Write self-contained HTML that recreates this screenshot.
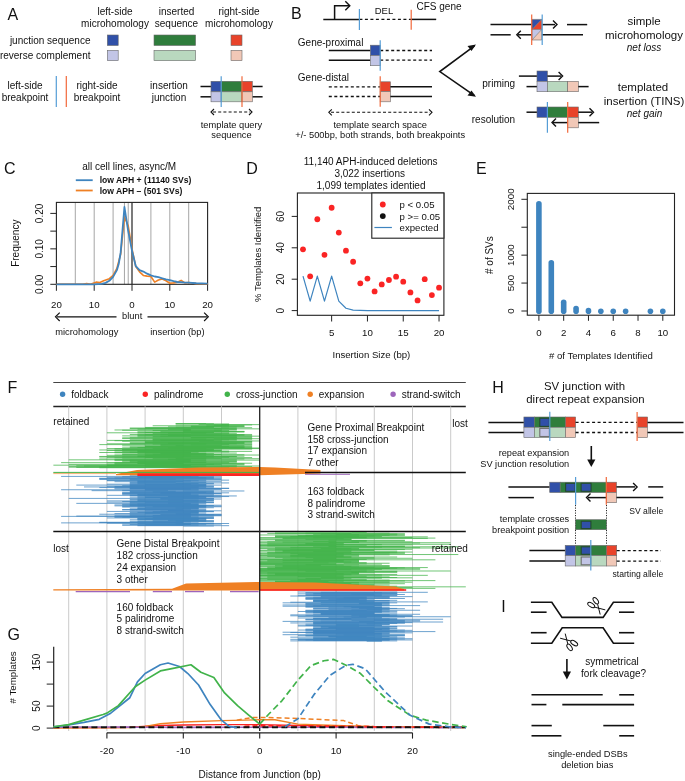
<!DOCTYPE html><html><head><meta charset="utf-8"><style>
html,body{margin:0;padding:0;background:#fff;}
svg{display:block;will-change:transform;}
text{font-family:"Liberation Sans",sans-serif;fill:#111;}
</style></head><body>
<svg width="685" height="781" viewBox="0 0 685 781">
<rect width="685" height="781" fill="#fff"/>
<text x="7.6" y="19.6" font-size="16" text-anchor="start" >A</text>
<text x="115" y="14.7" font-size="10" text-anchor="middle" >left-side</text>
<text x="115" y="26.5" font-size="10" text-anchor="middle" >microhomology</text>
<text x="176.5" y="14.7" font-size="10" text-anchor="middle" >inserted</text>
<text x="176.5" y="26.5" font-size="10" text-anchor="middle" >sequence</text>
<text x="239" y="14.7" font-size="10" text-anchor="middle" >right-side</text>
<text x="239" y="26.5" font-size="10" text-anchor="middle" >microhomology</text>
<text x="90.5" y="43.6" font-size="10" text-anchor="end" >junction sequence</text>
<text x="90.5" y="58.8" font-size="10" text-anchor="end" >reverse complement</text>
<rect x="107.3" y="35" width="10.9" height="10.5" fill="#3050a8" stroke="#6a6a6a" stroke-width="0.6"/>
<rect x="107.3" y="50.3" width="10.9" height="10.4" fill="#c2c5e6" stroke="#6a6a6a" stroke-width="0.6"/>
<rect x="154" y="35" width="41.6" height="10.5" fill="#2f7d3c" stroke="#6a6a6a" stroke-width="0.6"/>
<rect x="154" y="50.3" width="41.6" height="10.4" fill="#b9d8bf" stroke="#6a6a6a" stroke-width="0.6"/>
<rect x="231" y="35" width="11" height="10.5" fill="#e8432a" stroke="#6a6a6a" stroke-width="0.6"/>
<rect x="231" y="50.3" width="11" height="10.4" fill="#f1c8b7" stroke="#6a6a6a" stroke-width="0.6"/>
<text x="25" y="88.6" font-size="10" text-anchor="middle" >left-side</text>
<text x="25" y="100.5" font-size="10" text-anchor="middle" >breakpoint</text>
<text x="97" y="88.6" font-size="10" text-anchor="middle" >right-side</text>
<text x="97" y="100.5" font-size="10" text-anchor="middle" >breakpoint</text>
<line x1="56.3" y1="76" x2="56.3" y2="107" stroke="#559dd6" stroke-width="1.2" />
<line x1="66.3" y1="76" x2="66.3" y2="107" stroke="#f2683a" stroke-width="1.2" />
<text x="169" y="88.6" font-size="10" text-anchor="middle" >insertion</text>
<text x="169" y="101.2" font-size="10" text-anchor="middle" >junction</text>
<line x1="200.5" y1="86.5" x2="211" y2="86.5" stroke="#111" stroke-width="1.5" />
<line x1="200.5" y1="96.8" x2="211" y2="96.8" stroke="#111" stroke-width="1.5" />
<line x1="252.3" y1="86.5" x2="262.6" y2="86.5" stroke="#111" stroke-width="1.5" />
<line x1="252.3" y1="96.8" x2="262.6" y2="96.8" stroke="#111" stroke-width="1.5" />
<rect x="211" y="81.3" width="10.2" height="10.5" fill="#3050a8" stroke="#6a6a6a" stroke-width="0.6"/>
<rect x="221.2" y="81.3" width="20.8" height="10.5" fill="#2f7d3c" stroke="#6a6a6a" stroke-width="0.6"/>
<rect x="242" y="81.3" width="10.3" height="10.5" fill="#e8432a" stroke="#6a6a6a" stroke-width="0.6"/>
<rect x="211" y="91.8" width="10.2" height="10" fill="#c2c5e6" stroke="#6a6a6a" stroke-width="0.6"/>
<rect x="221.2" y="91.8" width="20.8" height="10" fill="#b9d8bf" stroke="#6a6a6a" stroke-width="0.6"/>
<rect x="242" y="91.8" width="10.3" height="10" fill="#f1c8b7" stroke="#6a6a6a" stroke-width="0.6"/>
<line x1="221.2" y1="76.3" x2="221.2" y2="107" stroke="#559dd6" stroke-width="1.2" />
<line x1="242" y1="76.3" x2="242" y2="107" stroke="#f2683a" stroke-width="1.2" />
<line x1="213" y1="112" x2="250" y2="112" stroke="#111" stroke-width="1.1" stroke-dasharray="3,2.2"/>
<path d="M214,109 L211,112 L214,115" stroke="#111" stroke-width="1.1" fill="none" />
<path d="M249,109 L252,112 L249,115" stroke="#111" stroke-width="1.1" fill="none" />
<text x="231.5" y="128" font-size="9.3" text-anchor="middle" >template query</text>
<text x="231.5" y="137.8" font-size="9.3" text-anchor="middle" >sequence</text>
<text x="291" y="19.4" font-size="16" text-anchor="start" >B</text>
<line x1="323.3" y1="19.4" x2="359.4" y2="19.4" stroke="#111" stroke-width="1.5" />
<line x1="359.4" y1="19.4" x2="411.2" y2="19.4" stroke="#111" stroke-width="1.3" stroke-dasharray="3,2.5"/>
<line x1="411.2" y1="19.4" x2="436.2" y2="19.4" stroke="#111" stroke-width="1.5" />
<path d="M334.6,19.4 L334.6,5.8 L349.5,5.8" stroke="#111" stroke-width="1.5" fill="none" />
<path d="M345.3,1.2999999999999998 L349.8,5.8 L345.3,10.3" stroke="#111" stroke-width="1.4" fill="none" />
<line x1="359.4" y1="9.1" x2="359.4" y2="29.9" stroke="#559dd6" stroke-width="1.2" />
<line x1="411.2" y1="9.7" x2="411.2" y2="29.7" stroke="#f2683a" stroke-width="1.2" />
<text x="384" y="14.4" font-size="9.5" text-anchor="middle" >DEL</text>
<text x="416.5" y="9.6" font-size="10" text-anchor="start" >CFS gene</text>
<text x="297.8" y="46.4" font-size="10" text-anchor="start" >Gene-proximal</text>
<line x1="328.8" y1="50.5" x2="370.4" y2="50.5" stroke="#111" stroke-width="1.5" />
<line x1="328.8" y1="60.2" x2="370.4" y2="60.2" stroke="#111" stroke-width="1.5" />
<line x1="380.2" y1="50.5" x2="432" y2="50.5" stroke="#111" stroke-width="1.3" stroke-dasharray="3,2.5"/>
<line x1="380.2" y1="60.2" x2="432" y2="60.2" stroke="#111" stroke-width="1.3" stroke-dasharray="3,2.5"/>
<rect x="370.4" y="45.2" width="9.8" height="10.3" fill="#3050a8" stroke="#6a6a6a" stroke-width="0.6"/>
<rect x="370.4" y="55.5" width="9.8" height="10.2" fill="#c2c5e6" stroke="#6a6a6a" stroke-width="0.6"/>
<line x1="380.2" y1="40.2" x2="380.2" y2="70.7" stroke="#559dd6" stroke-width="1.2" />
<text x="297.8" y="81.0" font-size="10" text-anchor="start" >Gene-distal</text>
<line x1="328.8" y1="86.8" x2="380.2" y2="86.8" stroke="#111" stroke-width="1.3" stroke-dasharray="3,2.5"/>
<line x1="328.8" y1="96.5" x2="380.2" y2="96.5" stroke="#111" stroke-width="1.3" stroke-dasharray="3,2.5"/>
<rect x="380.2" y="81.8" width="10.2" height="9.7" fill="#e8432a" stroke="#6a6a6a" stroke-width="0.6"/>
<rect x="380.2" y="91.5" width="10.2" height="10.3" fill="#f1c8b7" stroke="#6a6a6a" stroke-width="0.6"/>
<line x1="390.4" y1="86.8" x2="432" y2="86.8" stroke="#111" stroke-width="1.5" />
<line x1="390.4" y1="96.5" x2="432" y2="96.5" stroke="#111" stroke-width="1.5" />
<line x1="380.2" y1="76.3" x2="380.2" y2="106.8" stroke="#f2683a" stroke-width="1.2" />
<line x1="331" y1="112.3" x2="430" y2="112.3" stroke="#111" stroke-width="1.1" stroke-dasharray="3,2.2"/>
<path d="M331.8,109.3 L328.8,112.3 L331.8,115.3" stroke="#111" stroke-width="1.1" fill="none" />
<path d="M429,109.3 L432,112.3 L429,115.3" stroke="#111" stroke-width="1.1" fill="none" />
<text x="380.2" y="127.5" font-size="9.3" text-anchor="middle" >template search space</text>
<text x="380.2" y="138.2" font-size="9.3" text-anchor="middle" >+/- 500bp, both strands, both breakpoints</text>
<path d="M474.5,45.8 L439.8,71.6 L474.5,95.7" stroke="#111" stroke-width="1.6" fill="none" />
<path d="M476,44.6 L467.5,46 L471.5,51 Z" fill="#111"/>
<path d="M476,96.8 L471.5,90.5 L467.5,95.5 Z" fill="#111"/>
<line x1="490.5" y1="24.6" x2="532" y2="24.6" stroke="#111" stroke-width="1.5" />
<line x1="541.7" y1="24.6" x2="555" y2="24.6" stroke="#111" stroke-width="1.5" />
<path d="M553,20.6 L557,24.6 L553,28.6" stroke="#111" stroke-width="1.4" fill="none" />
<line x1="567" y1="24.6" x2="587.2" y2="24.6" stroke="#111" stroke-width="1.5" />
<line x1="490.5" y1="34.8" x2="510.7" y2="34.8" stroke="#111" stroke-width="1.5" />
<line x1="518" y1="34.8" x2="532" y2="34.8" stroke="#111" stroke-width="1.5" />
<path d="M520.8,30.799999999999997 L516.8,34.8 L520.8,38.8" stroke="#111" stroke-width="1.4" fill="none" />
<line x1="541.7" y1="34.8" x2="583" y2="34.8" stroke="#111" stroke-width="1.5" />
<polygon points="532,19.4 541.7,19.4 532,29.5" fill="#3050a8"/>
<polygon points="541.7,19.4 541.7,29.5 532,29.5" fill="#e8432a"/>
<polygon points="532,29.5 541.7,29.5 532,40" fill="#c2c5e6"/>
<polygon points="541.7,29.5 541.7,40 532,40" fill="#f1c8b7"/>
<path d="M532,19.4 H541.7 V40 H532 Z M532,29.5 H541.7 M541.7,19.4 L532,29.5 M541.7,29.5 L532,40" fill="none" stroke="#6a6a6a" stroke-width="0.6"/>
<line x1="531.7" y1="14.6" x2="531.7" y2="45" stroke="#f2683a" stroke-width="1.2" />
<line x1="542.2" y1="14.6" x2="542.2" y2="45" stroke="#559dd6" stroke-width="1.2" />
<text x="644" y="25.1" font-size="11.5" text-anchor="middle" >simple</text>
<text x="644" y="39.2" font-size="11.5" text-anchor="middle" >microhomology</text>
<text x="644" y="50.9" font-size="10" text-anchor="middle" font-style="italic">net loss</text>
<text x="515.1" y="86.6" font-size="10" text-anchor="end" >priming</text>
<line x1="518.9" y1="76.1" x2="537" y2="76.1" stroke="#111" stroke-width="1.5" />
<rect x="537" y="71" width="10.4" height="10.3" fill="#3050a8" stroke="#6a6a6a" stroke-width="0.6"/>
<line x1="547.4" y1="76.1" x2="561" y2="76.1" stroke="#111" stroke-width="1.5" />
<path d="M558.6,72.1 L562.6,76.1 L558.6,80.1" stroke="#111" stroke-width="1.4" fill="none" />
<line x1="526.5" y1="86.6" x2="537" y2="86.6" stroke="#111" stroke-width="1.5" />
<rect x="537" y="81.3" width="10.4" height="10.4" fill="#c2c5e6" stroke="#6a6a6a" stroke-width="0.6"/>
<rect x="547.4" y="81.3" width="20.3" height="10.4" fill="#b9d8bf" stroke="#6a6a6a" stroke-width="0.6"/>
<rect x="567.7" y="81.3" width="10.6" height="10.4" fill="#f1c8b7" stroke="#6a6a6a" stroke-width="0.6"/>
<line x1="578.3" y1="86.6" x2="588.6" y2="86.6" stroke="#111" stroke-width="1.5" />
<text x="515.1" y="122.6" font-size="10" text-anchor="end" >resolution</text>
<line x1="526.5" y1="112.2" x2="537" y2="112.2" stroke="#111" stroke-width="1.5" />
<rect x="537" y="107" width="10.4" height="10.3" fill="#3050a8" stroke="#6a6a6a" stroke-width="0.6"/>
<rect x="547.4" y="107" width="20.3" height="10.3" fill="#2f7d3c" stroke="#6a6a6a" stroke-width="0.6"/>
<rect x="567.7" y="107" width="10.6" height="10.3" fill="#e8432a" stroke="#6a6a6a" stroke-width="0.6"/>
<line x1="578.3" y1="112.2" x2="592" y2="112.2" stroke="#111" stroke-width="1.5" />
<path d="M589.5,108.2 L593.5,112.2 L589.5,116.2" stroke="#111" stroke-width="1.4" fill="none" />
<line x1="553" y1="122.6" x2="567.7" y2="122.6" stroke="#111" stroke-width="1.5" />
<path d="M556,118.6 L552,122.6 L556,126.6" stroke="#111" stroke-width="1.4" fill="none" />
<rect x="567.7" y="117.3" width="10.6" height="10.5" fill="#f1c8b7" stroke="#6a6a6a" stroke-width="0.6"/>
<line x1="578.3" y1="122.6" x2="599.2" y2="122.6" stroke="#111" stroke-width="1.5" />
<line x1="547.4" y1="102" x2="547.4" y2="132.7" stroke="#559dd6" stroke-width="1.2" />
<line x1="567.7" y1="102" x2="567.7" y2="132.7" stroke="#f2683a" stroke-width="1.2" />
<text x="643" y="91" font-size="11.5" text-anchor="middle" >templated</text>
<text x="644" y="105.1" font-size="11.5" text-anchor="middle" >insertion (TINS)</text>
<text x="644.5" y="117.4" font-size="10" text-anchor="middle" font-style="italic">net gain</text>
<text x="3.9" y="173.6" font-size="16" text-anchor="start" >C</text>
<text x="129.2" y="170.2" font-size="10" text-anchor="middle" >all cell lines, async/M</text>
<line x1="75.8" y1="180.2" x2="92.7" y2="180.2" stroke="#3e84bf" stroke-width="1.8" />
<line x1="75.8" y1="190.5" x2="92.7" y2="190.5" stroke="#ef8024" stroke-width="1.8" />
<text x="99.7" y="183.2" font-size="8.6" text-anchor="start" font-weight="bold">low APH + (11140 SVs)</text>
<text x="99.7" y="193.6" font-size="8.6" text-anchor="start" font-weight="bold">low APH &#8211; (501 SVs)</text>
<line x1="75.30000000000001" y1="202.4" x2="75.30000000000001" y2="284.3" stroke="#9c9c9c" stroke-width="0.9" />
<line x1="94.2" y1="202.4" x2="94.2" y2="284.3" stroke="#9c9c9c" stroke-width="0.9" />
<line x1="113.1" y1="202.4" x2="113.1" y2="284.3" stroke="#9c9c9c" stroke-width="0.9" />
<line x1="124.44" y1="202.4" x2="124.44" y2="284.3" stroke="#9c9c9c" stroke-width="0.9" />
<line x1="128.22" y1="202.4" x2="128.22" y2="284.3" stroke="#9c9c9c" stroke-width="0.9" />
<line x1="150.9" y1="202.4" x2="150.9" y2="284.3" stroke="#9c9c9c" stroke-width="0.9" />
<line x1="169.8" y1="202.4" x2="169.8" y2="284.3" stroke="#9c9c9c" stroke-width="0.9" />
<line x1="188.7" y1="202.4" x2="188.7" y2="284.3" stroke="#9c9c9c" stroke-width="0.9" />
<line x1="132.0" y1="202.4" x2="132.0" y2="284.3" stroke="#333" stroke-width="1.3" />
<rect x="56.4" y="202.4" width="151.2" height="81.9" fill="none" stroke="#222" stroke-width="1.1"/>
<line x1="50.3" y1="284.3" x2="56.4" y2="284.3" stroke="#222" stroke-width="1.0" />
<line x1="50.3" y1="266.575" x2="56.4" y2="266.575" stroke="#222" stroke-width="1.0" />
<line x1="50.3" y1="248.85000000000002" x2="56.4" y2="248.85000000000002" stroke="#222" stroke-width="1.0" />
<line x1="50.3" y1="231.125" x2="56.4" y2="231.125" stroke="#222" stroke-width="1.0" />
<line x1="50.3" y1="213.4" x2="56.4" y2="213.4" stroke="#222" stroke-width="1.0" />
<text x="0" y="0" font-size="10" text-anchor="middle" transform="translate(42.6,284.3) rotate(-90)" >0.00</text>
<text x="0" y="0" font-size="10" text-anchor="middle" transform="translate(42.6,248.85000000000002) rotate(-90)" >0.10</text>
<text x="0" y="0" font-size="10" text-anchor="middle" transform="translate(42.6,213.4) rotate(-90)" >0.20</text>
<text x="0" y="0" font-size="10" text-anchor="middle" transform="translate(19.4,243.2) rotate(-90)" >Frequency</text>
<line x1="56.400000000000006" y1="284.3" x2="56.400000000000006" y2="290.8" stroke="#222" stroke-width="1.0" />
<line x1="94.2" y1="284.3" x2="94.2" y2="290.8" stroke="#222" stroke-width="1.0" />
<line x1="132.0" y1="284.3" x2="132.0" y2="290.8" stroke="#222" stroke-width="1.0" />
<line x1="169.8" y1="284.3" x2="169.8" y2="290.8" stroke="#222" stroke-width="1.0" />
<line x1="207.6" y1="284.3" x2="207.6" y2="290.8" stroke="#222" stroke-width="1.0" />
<text x="56.400000000000006" y="307.9" font-size="9.7" text-anchor="middle" >20</text>
<text x="94.2" y="307.9" font-size="9.7" text-anchor="middle" >10</text>
<text x="132.0" y="307.9" font-size="9.7" text-anchor="middle" >0</text>
<text x="169.8" y="307.9" font-size="9.7" text-anchor="middle" >10</text>
<text x="207.6" y="307.9" font-size="9.7" text-anchor="middle" >20</text>
<line x1="57" y1="316.8" x2="116.5" y2="316.8" stroke="#111" stroke-width="1.2" />
<path d="M59.7,312.6 L55.5,316.8 L59.7,321.0" stroke="#111" stroke-width="1.2" fill="none" />
<line x1="147.5" y1="316.8" x2="207" y2="316.8" stroke="#111" stroke-width="1.2" />
<path d="M204.10000000000002,312.6 L208.3,316.8 L204.10000000000002,321.0" stroke="#111" stroke-width="1.2" fill="none" />
<text x="132.2" y="319.3" font-size="9.3" text-anchor="middle" >blunt</text>
<text x="55.3" y="334.9" font-size="9.3" text-anchor="start" >microhomology</text>
<text x="150.3" y="334.9" font-size="9.3" text-anchor="start" >insertion (bp)</text>
<polyline points="56.40,284.30 82.86,284.30 86.64,283.59 90.42,284.30 96.09,282.17 99.87,282.53 103.65,280.75 109.32,278.63 113.10,275.44 116.88,268.35 120.66,254.17 124.44,216.94 128.22,225.81 132.00,248.85 135.78,266.57 139.56,271.89 143.34,275.44 147.12,276.15 150.90,276.50 154.68,282.17 158.46,280.05 162.24,278.98 166.02,280.75 169.80,283.24 173.58,282.88 177.36,282.17 181.14,280.40 184.92,282.88 188.70,282.53 196.26,283.59 207.60,283.95" fill="none" stroke="#ef8024" stroke-width="1.6" stroke-linejoin="round" />
<polyline points="56.40,284.30 94.20,284.30 101.76,283.95 105.54,282.88 109.32,280.75 113.10,276.86 116.88,270.12 118.77,263.74 120.66,252.40 124.44,207.02 128.22,231.12 132.00,250.62 135.78,266.22 139.56,270.12 143.34,271.54 147.12,273.67 150.90,275.44 154.68,276.50 158.46,277.21 162.24,278.27 166.02,279.34 169.80,280.05 173.58,281.11 177.36,282.00 181.14,282.17 184.92,282.53 188.70,282.53 196.26,283.24 207.60,283.59" fill="none" stroke="#3e84bf" stroke-width="1.8" stroke-linejoin="round" />
<text x="246.3" y="173.6" font-size="16" text-anchor="start" >D</text>
<text x="370.7" y="165.1" font-size="10" text-anchor="middle" >11,140 APH-induced deletions</text>
<text x="369.7" y="177.4" font-size="10" text-anchor="middle" >3,022 insertions</text>
<text x="371" y="188.9" font-size="10" text-anchor="middle" >1,099 templates identied</text>
<rect x="297.4" y="193.0" width="146.5" height="122.3" fill="none" stroke="#222" stroke-width="1.1"/>
<line x1="291.7" y1="310.6" x2="297.4" y2="310.6" stroke="#222" stroke-width="1.0" />
<text x="0" y="0" font-size="10" text-anchor="middle" transform="translate(283.8,310.6) rotate(-90)" >0</text>
<line x1="291.7" y1="279.20000000000005" x2="297.4" y2="279.20000000000005" stroke="#222" stroke-width="1.0" />
<text x="0" y="0" font-size="10" text-anchor="middle" transform="translate(283.8,279.20000000000005) rotate(-90)" >20</text>
<line x1="291.7" y1="247.8" x2="297.4" y2="247.8" stroke="#222" stroke-width="1.0" />
<text x="0" y="0" font-size="10" text-anchor="middle" transform="translate(283.8,247.8) rotate(-90)" >40</text>
<line x1="291.7" y1="216.40000000000003" x2="297.4" y2="216.40000000000003" stroke="#222" stroke-width="1.0" />
<text x="0" y="0" font-size="10" text-anchor="middle" transform="translate(283.8,216.40000000000003) rotate(-90)" >60</text>
<text x="0" y="0" font-size="9.5" text-anchor="middle" transform="translate(261.3,254.3) rotate(-90)" >% Templates Identified</text>
<line x1="331.64" y1="315.3" x2="331.64" y2="321.5" stroke="#222" stroke-width="1.0" />
<text x="331.64" y="336" font-size="9.7" text-anchor="middle" >5</text>
<line x1="367.44" y1="315.3" x2="367.44" y2="321.5" stroke="#222" stroke-width="1.0" />
<text x="367.44" y="336" font-size="9.7" text-anchor="middle" >10</text>
<line x1="403.24" y1="315.3" x2="403.24" y2="321.5" stroke="#222" stroke-width="1.0" />
<text x="403.24" y="336" font-size="9.7" text-anchor="middle" >15</text>
<line x1="439.03999999999996" y1="315.3" x2="439.03999999999996" y2="321.5" stroke="#222" stroke-width="1.0" />
<text x="439.03999999999996" y="336" font-size="9.7" text-anchor="middle" >20</text>
<text x="371.4" y="357.8" font-size="9.6" text-anchor="middle" >Insertion Size (bp)</text>
<polyline points="303.00,276.06 310.16,301.18 317.32,276.06 324.48,301.18 331.64,276.06 338.80,301.18 345.96,308.25 353.12,310.13 360.28,310.44 367.44,310.60 374.60,310.60 381.76,310.60 388.92,310.60 396.08,310.60 403.24,310.60 410.40,310.60 417.56,310.60 424.72,310.60 431.88,310.60 439.04,310.60" fill="none" stroke="#3e84bf" stroke-width="1.2" stroke-linejoin="round" />
<circle cx="303.00" cy="249.37" r="2.9" fill="#fa2424"/>
<circle cx="310.16" cy="276.37" r="2.9" fill="#fa2424"/>
<circle cx="317.32" cy="219.23" r="2.9" fill="#fa2424"/>
<circle cx="324.48" cy="254.87" r="2.9" fill="#fa2424"/>
<circle cx="331.64" cy="207.77" r="2.9" fill="#fa2424"/>
<circle cx="338.80" cy="232.57" r="2.9" fill="#fa2424"/>
<circle cx="345.96" cy="250.63" r="2.9" fill="#fa2424"/>
<circle cx="353.12" cy="261.77" r="2.9" fill="#fa2424"/>
<circle cx="360.28" cy="283.28" r="2.9" fill="#fa2424"/>
<circle cx="367.44" cy="278.57" r="2.9" fill="#fa2424"/>
<circle cx="374.60" cy="291.45" r="2.9" fill="#fa2424"/>
<circle cx="381.76" cy="284.38" r="2.9" fill="#fa2424"/>
<circle cx="388.92" cy="279.99" r="2.9" fill="#fa2424"/>
<circle cx="396.08" cy="276.69" r="2.9" fill="#fa2424"/>
<circle cx="403.24" cy="281.71" r="2.9" fill="#fa2424"/>
<circle cx="410.40" cy="292.39" r="2.9" fill="#fa2424"/>
<circle cx="417.56" cy="300.40" r="2.9" fill="#fa2424"/>
<circle cx="424.72" cy="279.20" r="2.9" fill="#fa2424"/>
<circle cx="431.88" cy="295.06" r="2.9" fill="#fa2424"/>
<circle cx="439.04" cy="287.68" r="2.9" fill="#fa2424"/>
<rect x="371.8" y="193.0" width="72.1" height="45.2" fill="#fff" stroke="#222" stroke-width="1.1"/>
<circle cx="382.8" cy="204.5" r="2.9" fill="#fa2424"/>
<circle cx="382.8" cy="216.1" r="2.9" fill="#111"/>
<line x1="374.4" y1="227.5" x2="391.9" y2="227.5" stroke="#3e84bf" stroke-width="1.2" />
<text x="399.6" y="208.0" font-size="9.6" text-anchor="start" >p &lt; 0.05</text>
<text x="399.6" y="219.6" font-size="9.6" text-anchor="start" >p &gt;= 0.05</text>
<text x="399.6" y="231.2" font-size="9.6" text-anchor="start" >expected</text>
<text x="476" y="173.6" font-size="16" text-anchor="start" >E</text>
<rect x="527.3" y="193.4" width="147.2" height="121.8" fill="none" stroke="#222" stroke-width="1.1"/>
<line x1="521.4" y1="311.0" x2="527.3" y2="311.0" stroke="#222" stroke-width="1.0" />
<line x1="521.4" y1="283.075" x2="527.3" y2="283.075" stroke="#222" stroke-width="1.0" />
<line x1="521.4" y1="255.15" x2="527.3" y2="255.15" stroke="#222" stroke-width="1.0" />
<line x1="521.4" y1="227.22500000000002" x2="527.3" y2="227.22500000000002" stroke="#222" stroke-width="1.0" />
<line x1="521.4" y1="199.3" x2="527.3" y2="199.3" stroke="#222" stroke-width="1.0" />
<text x="0" y="0" font-size="9.8" text-anchor="middle" transform="translate(513.5,311.0) rotate(-90)" >0</text>
<text x="0" y="0" font-size="9.8" text-anchor="middle" transform="translate(513.5,283.075) rotate(-90)" >500</text>
<text x="0" y="0" font-size="9.8" text-anchor="middle" transform="translate(513.5,255.15) rotate(-90)" >1000</text>
<text x="0" y="0" font-size="9.8" text-anchor="middle" transform="translate(513.5,199.3) rotate(-90)" >2000</text>
<text x="0" y="0" font-size="10" text-anchor="middle" transform="translate(492.9,255.1) rotate(-90)" ># of SVs</text>
<line x1="538.9" y1="315.2" x2="538.9" y2="320.8" stroke="#222" stroke-width="1.0" />
<text x="538.9" y="336.4" font-size="9.7" text-anchor="middle" >0</text>
<line x1="563.68" y1="315.2" x2="563.68" y2="320.8" stroke="#222" stroke-width="1.0" />
<text x="563.68" y="336.4" font-size="9.7" text-anchor="middle" >2</text>
<line x1="588.46" y1="315.2" x2="588.46" y2="320.8" stroke="#222" stroke-width="1.0" />
<text x="588.46" y="336.4" font-size="9.7" text-anchor="middle" >4</text>
<line x1="613.24" y1="315.2" x2="613.24" y2="320.8" stroke="#222" stroke-width="1.0" />
<text x="613.24" y="336.4" font-size="9.7" text-anchor="middle" >6</text>
<line x1="638.02" y1="315.2" x2="638.02" y2="320.8" stroke="#222" stroke-width="1.0" />
<text x="638.02" y="336.4" font-size="9.7" text-anchor="middle" >8</text>
<line x1="662.8" y1="315.2" x2="662.8" y2="320.8" stroke="#222" stroke-width="1.0" />
<text x="662.8" y="336.4" font-size="9.7" text-anchor="middle" >10</text>
<text x="600.9" y="358.5" font-size="9.6" text-anchor="middle" ># of Templates Identified</text>
<line x1="538.90" y1="203.80" x2="538.90" y2="311.3" stroke="#3e84bf" stroke-width="5.6" stroke-linecap="round"/>
<line x1="551.29" y1="262.80" x2="551.29" y2="311.3" stroke="#3e84bf" stroke-width="5.6" stroke-linecap="round"/>
<line x1="563.68" y1="302.30" x2="563.68" y2="311.3" stroke="#3e84bf" stroke-width="5.6" stroke-linecap="round"/>
<line x1="576.07" y1="308.60" x2="576.07" y2="311.3" stroke="#3e84bf" stroke-width="5.6" stroke-linecap="round"/>
<line x1="588.46" y1="310.60" x2="588.46" y2="311.3" stroke="#3e84bf" stroke-width="5.6" stroke-linecap="round"/>
<line x1="600.85" y1="311.30" x2="600.85" y2="311.3" stroke="#3e84bf" stroke-width="5.6" stroke-linecap="round"/>
<line x1="613.24" y1="311.30" x2="613.24" y2="311.3" stroke="#3e84bf" stroke-width="5.6" stroke-linecap="round"/>
<line x1="625.63" y1="311.30" x2="625.63" y2="311.3" stroke="#3e84bf" stroke-width="5.6" stroke-linecap="round"/>
<line x1="650.41" y1="311.30" x2="650.41" y2="311.3" stroke="#3e84bf" stroke-width="5.6" stroke-linecap="round"/>
<line x1="662.80" y1="311.30" x2="662.80" y2="311.3" stroke="#3e84bf" stroke-width="5.6" stroke-linecap="round"/>
<text x="7.5" y="393.4" font-size="16" text-anchor="start" >F</text>
<line x1="53.3" y1="382.5" x2="465.8" y2="382.5" stroke="#444" stroke-width="1.1" />
<line x1="53.3" y1="406.5" x2="465.8" y2="406.5" stroke="#222" stroke-width="1.4" />
<circle cx="62.6" cy="394.2" r="2.7" fill="#3e84bf"/>
<text x="71.2" y="397.7" font-size="10" text-anchor="start" >foldback</text>
<circle cx="145.3" cy="394.2" r="2.7" fill="#fa2424"/>
<text x="153.9" y="397.7" font-size="10" text-anchor="start" >palindrome</text>
<circle cx="227.3" cy="394.2" r="2.7" fill="#41b34a"/>
<text x="235.9" y="397.7" font-size="10" text-anchor="start" >cross-junction</text>
<circle cx="310.2" cy="394.2" r="2.7" fill="#ef8024"/>
<text x="318.8" y="397.7" font-size="10" text-anchor="start" >expansion</text>
<circle cx="393.1" cy="394.2" r="2.7" fill="#9d65bb"/>
<text x="401.70000000000005" y="397.7" font-size="10" text-anchor="start" >strand-switch</text>
<line x1="68.69999999999999" y1="406.3" x2="68.69999999999999" y2="731" stroke="#c4c4c4" stroke-width="0.9" />
<line x1="106.9" y1="406.3" x2="106.9" y2="731" stroke="#c4c4c4" stroke-width="0.9" />
<line x1="145.1" y1="406.3" x2="145.1" y2="731" stroke="#c4c4c4" stroke-width="0.9" />
<line x1="183.3" y1="406.3" x2="183.3" y2="731" stroke="#c4c4c4" stroke-width="0.9" />
<line x1="221.5" y1="406.3" x2="221.5" y2="731" stroke="#c4c4c4" stroke-width="0.9" />
<line x1="297.9" y1="406.3" x2="297.9" y2="731" stroke="#c4c4c4" stroke-width="0.9" />
<line x1="336.09999999999997" y1="406.3" x2="336.09999999999997" y2="731" stroke="#c4c4c4" stroke-width="0.9" />
<line x1="374.29999999999995" y1="406.3" x2="374.29999999999995" y2="731" stroke="#c4c4c4" stroke-width="0.9" />
<line x1="412.5" y1="406.3" x2="412.5" y2="731" stroke="#c4c4c4" stroke-width="0.9" />
<line x1="450.7" y1="406.3" x2="450.7" y2="731" stroke="#c4c4c4" stroke-width="0.9" />
<line x1="175.7" y1="423.50" x2="206.2" y2="423.50" stroke="#41b34a" stroke-width="0.75" stroke-opacity="1"/>
<line x1="175.7" y1="423.78" x2="213.9" y2="423.78" stroke="#41b34a" stroke-width="0.75" stroke-opacity="1"/>
<line x1="206.2" y1="424.06" x2="229.1" y2="424.06" stroke="#41b34a" stroke-width="0.75" stroke-opacity="1"/>
<line x1="198.6" y1="424.34" x2="229.1" y2="424.34" stroke="#41b34a" stroke-width="0.75" stroke-opacity="1"/>
<line x1="221.5" y1="424.63" x2="259.7" y2="424.63" stroke="#41b34a" stroke-width="0.75" stroke-opacity="1"/>
<line x1="175.7" y1="424.91" x2="252.1" y2="424.91" stroke="#41b34a" stroke-width="0.75" stroke-opacity="1"/>
<line x1="213.9" y1="425.19" x2="229.1" y2="425.19" stroke="#41b34a" stroke-width="0.75" stroke-opacity="1"/>
<line x1="206.2" y1="425.47" x2="244.4" y2="425.47" stroke="#41b34a" stroke-width="0.75" stroke-opacity="1"/>
<line x1="152.7" y1="425.75" x2="206.2" y2="425.75" stroke="#41b34a" stroke-width="0.75" stroke-opacity="1"/>
<line x1="190.9" y1="426.03" x2="229.1" y2="426.03" stroke="#41b34a" stroke-width="0.75" stroke-opacity="1"/>
<line x1="206.2" y1="426.32" x2="244.4" y2="426.32" stroke="#41b34a" stroke-width="0.75" stroke-opacity="1"/>
<line x1="190.9" y1="426.60" x2="244.4" y2="426.60" stroke="#41b34a" stroke-width="0.75" stroke-opacity="1"/>
<line x1="168.0" y1="426.88" x2="213.9" y2="426.88" stroke="#41b34a" stroke-width="0.75" stroke-opacity="1"/>
<line x1="175.7" y1="427.16" x2="236.8" y2="427.16" stroke="#41b34a" stroke-width="0.75" stroke-opacity="1"/>
<line x1="145.1" y1="427.44" x2="213.9" y2="427.44" stroke="#41b34a" stroke-width="0.75" stroke-opacity="1"/>
<line x1="221.5" y1="427.72" x2="252.1" y2="427.72" stroke="#41b34a" stroke-width="0.75" stroke-opacity="1"/>
<line x1="129.8" y1="428.01" x2="229.1" y2="428.01" stroke="#41b34a" stroke-width="0.75" stroke-opacity="1"/>
<line x1="145.1" y1="428.29" x2="221.5" y2="428.29" stroke="#41b34a" stroke-width="0.75" stroke-opacity="1"/>
<line x1="129.8" y1="428.57" x2="236.8" y2="428.57" stroke="#41b34a" stroke-width="0.75" stroke-opacity="1"/>
<line x1="213.9" y1="428.85" x2="259.7" y2="428.85" stroke="#41b34a" stroke-width="0.75" stroke-opacity="1"/>
<line x1="137.5" y1="429.13" x2="236.8" y2="429.13" stroke="#41b34a" stroke-width="0.75" stroke-opacity="1"/>
<line x1="168.0" y1="429.41" x2="190.9" y2="429.41" stroke="#41b34a" stroke-width="0.75" stroke-opacity="1"/>
<line x1="183.3" y1="429.70" x2="236.8" y2="429.70" stroke="#41b34a" stroke-width="0.75" stroke-opacity="1"/>
<line x1="114.5" y1="429.98" x2="221.5" y2="429.98" stroke="#41b34a" stroke-width="0.75" stroke-opacity="1"/>
<line x1="122.2" y1="430.26" x2="190.9" y2="430.26" stroke="#41b34a" stroke-width="0.75" stroke-opacity="1"/>
<line x1="152.7" y1="430.54" x2="229.1" y2="430.54" stroke="#41b34a" stroke-width="0.75" stroke-opacity="1"/>
<line x1="183.3" y1="430.82" x2="221.5" y2="430.82" stroke="#41b34a" stroke-width="0.75" stroke-opacity="1"/>
<line x1="213.9" y1="431.10" x2="236.8" y2="431.10" stroke="#41b34a" stroke-width="0.75" stroke-opacity="1"/>
<line x1="183.3" y1="431.39" x2="244.4" y2="431.39" stroke="#41b34a" stroke-width="0.75" stroke-opacity="1"/>
<line x1="160.4" y1="431.67" x2="244.4" y2="431.67" stroke="#41b34a" stroke-width="0.75" stroke-opacity="1"/>
<line x1="137.5" y1="431.95" x2="244.4" y2="431.95" stroke="#41b34a" stroke-width="0.75" stroke-opacity="1"/>
<line x1="137.5" y1="432.23" x2="213.9" y2="432.23" stroke="#41b34a" stroke-width="0.75" stroke-opacity="1"/>
<line x1="145.1" y1="432.51" x2="213.9" y2="432.51" stroke="#41b34a" stroke-width="0.75" stroke-opacity="1"/>
<line x1="106.9" y1="432.79" x2="229.1" y2="432.79" stroke="#41b34a" stroke-width="0.75" stroke-opacity="1"/>
<line x1="168.0" y1="433.08" x2="206.2" y2="433.08" stroke="#41b34a" stroke-width="0.75" stroke-opacity="1"/>
<line x1="152.7" y1="433.36" x2="236.8" y2="433.36" stroke="#41b34a" stroke-width="0.75" stroke-opacity="1"/>
<line x1="190.9" y1="433.64" x2="229.1" y2="433.64" stroke="#41b34a" stroke-width="0.75" stroke-opacity="1"/>
<line x1="137.5" y1="433.92" x2="190.9" y2="433.92" stroke="#41b34a" stroke-width="0.75" stroke-opacity="1"/>
<line x1="160.4" y1="434.20" x2="221.5" y2="434.20" stroke="#41b34a" stroke-width="0.75" stroke-opacity="1"/>
<line x1="129.8" y1="434.48" x2="252.1" y2="434.48" stroke="#41b34a" stroke-width="0.75" stroke-opacity="1"/>
<line x1="145.1" y1="434.77" x2="244.4" y2="434.77" stroke="#41b34a" stroke-width="0.75" stroke-opacity="1"/>
<line x1="137.5" y1="435.05" x2="244.4" y2="435.05" stroke="#41b34a" stroke-width="0.75" stroke-opacity="1"/>
<line x1="137.5" y1="435.33" x2="236.8" y2="435.33" stroke="#41b34a" stroke-width="0.75" stroke-opacity="1"/>
<line x1="168.0" y1="435.61" x2="252.1" y2="435.61" stroke="#41b34a" stroke-width="0.75" stroke-opacity="1"/>
<line x1="122.2" y1="435.89" x2="236.8" y2="435.89" stroke="#41b34a" stroke-width="0.75" stroke-opacity="1"/>
<line x1="160.4" y1="436.17" x2="259.7" y2="436.17" stroke="#41b34a" stroke-width="0.75" stroke-opacity="1"/>
<line x1="152.7" y1="436.46" x2="190.9" y2="436.46" stroke="#41b34a" stroke-width="0.75" stroke-opacity="1"/>
<line x1="137.5" y1="436.74" x2="252.1" y2="436.74" stroke="#41b34a" stroke-width="0.75" stroke-opacity="1"/>
<line x1="190.9" y1="437.02" x2="236.8" y2="437.02" stroke="#41b34a" stroke-width="0.75" stroke-opacity="1"/>
<line x1="129.8" y1="437.30" x2="236.8" y2="437.30" stroke="#41b34a" stroke-width="0.75" stroke-opacity="1"/>
<line x1="190.9" y1="437.58" x2="252.1" y2="437.58" stroke="#41b34a" stroke-width="0.75" stroke-opacity="1"/>
<line x1="122.2" y1="437.86" x2="213.9" y2="437.86" stroke="#41b34a" stroke-width="0.75" stroke-opacity="1"/>
<line x1="152.7" y1="438.15" x2="236.8" y2="438.15" stroke="#41b34a" stroke-width="0.75" stroke-opacity="1"/>
<line x1="122.2" y1="438.43" x2="252.1" y2="438.43" stroke="#41b34a" stroke-width="0.75" stroke-opacity="1"/>
<line x1="213.9" y1="438.71" x2="259.7" y2="438.71" stroke="#41b34a" stroke-width="0.75" stroke-opacity="1"/>
<line x1="190.9" y1="438.99" x2="206.2" y2="438.99" stroke="#41b34a" stroke-width="0.75" stroke-opacity="1"/>
<line x1="129.8" y1="439.27" x2="252.1" y2="439.27" stroke="#41b34a" stroke-width="0.75" stroke-opacity="1"/>
<line x1="152.7" y1="439.55" x2="236.8" y2="439.55" stroke="#41b34a" stroke-width="0.75" stroke-opacity="1"/>
<line x1="152.7" y1="439.84" x2="229.1" y2="439.84" stroke="#41b34a" stroke-width="0.75" stroke-opacity="1"/>
<line x1="160.4" y1="440.12" x2="236.8" y2="440.12" stroke="#41b34a" stroke-width="0.75" stroke-opacity="1"/>
<line x1="106.9" y1="440.40" x2="213.9" y2="440.40" stroke="#41b34a" stroke-width="0.75" stroke-opacity="1"/>
<line x1="114.5" y1="440.68" x2="221.5" y2="440.68" stroke="#41b34a" stroke-width="0.75" stroke-opacity="1"/>
<line x1="152.7" y1="440.96" x2="259.7" y2="440.96" stroke="#41b34a" stroke-width="0.75" stroke-opacity="1"/>
<line x1="122.2" y1="441.24" x2="252.1" y2="441.24" stroke="#41b34a" stroke-width="0.75" stroke-opacity="1"/>
<line x1="198.6" y1="441.53" x2="252.1" y2="441.53" stroke="#41b34a" stroke-width="0.75" stroke-opacity="1"/>
<line x1="145.1" y1="441.81" x2="198.6" y2="441.81" stroke="#41b34a" stroke-width="0.75" stroke-opacity="1"/>
<line x1="145.1" y1="442.09" x2="221.5" y2="442.09" stroke="#41b34a" stroke-width="0.75" stroke-opacity="1"/>
<line x1="145.1" y1="442.37" x2="244.4" y2="442.37" stroke="#41b34a" stroke-width="0.75" stroke-opacity="1"/>
<line x1="129.8" y1="442.65" x2="252.1" y2="442.65" stroke="#41b34a" stroke-width="0.75" stroke-opacity="1"/>
<line x1="145.1" y1="442.93" x2="244.4" y2="442.93" stroke="#41b34a" stroke-width="0.75" stroke-opacity="1"/>
<line x1="168.0" y1="443.22" x2="252.1" y2="443.22" stroke="#41b34a" stroke-width="0.75" stroke-opacity="1"/>
<line x1="129.8" y1="443.50" x2="244.4" y2="443.50" stroke="#41b34a" stroke-width="0.75" stroke-opacity="1"/>
<line x1="106.9" y1="443.78" x2="236.8" y2="443.78" stroke="#41b34a" stroke-width="0.75" stroke-opacity="1"/>
<line x1="152.7" y1="444.06" x2="206.2" y2="444.06" stroke="#41b34a" stroke-width="0.75" stroke-opacity="1"/>
<line x1="160.4" y1="444.34" x2="252.1" y2="444.34" stroke="#41b34a" stroke-width="0.75" stroke-opacity="1"/>
<line x1="99.3" y1="444.62" x2="229.1" y2="444.62" stroke="#41b34a" stroke-width="0.75" stroke-opacity="1"/>
<line x1="190.9" y1="444.91" x2="252.1" y2="444.91" stroke="#41b34a" stroke-width="0.75" stroke-opacity="1"/>
<line x1="122.2" y1="445.19" x2="183.3" y2="445.19" stroke="#41b34a" stroke-width="0.75" stroke-opacity="1"/>
<line x1="160.4" y1="445.47" x2="221.5" y2="445.47" stroke="#41b34a" stroke-width="0.75" stroke-opacity="1"/>
<line x1="175.7" y1="445.75" x2="244.4" y2="445.75" stroke="#41b34a" stroke-width="0.75" stroke-opacity="1"/>
<line x1="145.1" y1="446.03" x2="252.1" y2="446.03" stroke="#41b34a" stroke-width="0.75" stroke-opacity="1"/>
<line x1="145.1" y1="446.31" x2="252.1" y2="446.31" stroke="#41b34a" stroke-width="0.75" stroke-opacity="1"/>
<line x1="145.1" y1="446.59" x2="229.1" y2="446.59" stroke="#41b34a" stroke-width="0.75" stroke-opacity="1"/>
<line x1="129.8" y1="446.88" x2="244.4" y2="446.88" stroke="#41b34a" stroke-width="0.75" stroke-opacity="1"/>
<line x1="122.2" y1="447.16" x2="244.4" y2="447.16" stroke="#41b34a" stroke-width="0.75" stroke-opacity="1"/>
<line x1="137.5" y1="447.44" x2="252.1" y2="447.44" stroke="#41b34a" stroke-width="0.75" stroke-opacity="1"/>
<line x1="129.8" y1="447.72" x2="244.4" y2="447.72" stroke="#41b34a" stroke-width="0.75" stroke-opacity="1"/>
<line x1="168.0" y1="448.00" x2="259.7" y2="448.00" stroke="#41b34a" stroke-width="0.75" stroke-opacity="1"/>
<line x1="152.7" y1="448.28" x2="252.1" y2="448.28" stroke="#41b34a" stroke-width="0.75" stroke-opacity="1"/>
<line x1="106.9" y1="448.57" x2="259.7" y2="448.57" stroke="#41b34a" stroke-width="0.75" stroke-opacity="1"/>
<line x1="114.5" y1="448.85" x2="206.2" y2="448.85" stroke="#41b34a" stroke-width="0.75" stroke-opacity="1"/>
<line x1="145.1" y1="449.13" x2="252.1" y2="449.13" stroke="#41b34a" stroke-width="0.75" stroke-opacity="1"/>
<line x1="122.2" y1="449.41" x2="213.9" y2="449.41" stroke="#41b34a" stroke-width="0.75" stroke-opacity="1"/>
<line x1="122.2" y1="449.69" x2="213.9" y2="449.69" stroke="#41b34a" stroke-width="0.75" stroke-opacity="1"/>
<line x1="99.3" y1="449.97" x2="221.5" y2="449.97" stroke="#41b34a" stroke-width="0.75" stroke-opacity="1"/>
<line x1="114.5" y1="450.26" x2="221.5" y2="450.26" stroke="#41b34a" stroke-width="0.75" stroke-opacity="1"/>
<line x1="106.9" y1="450.54" x2="221.5" y2="450.54" stroke="#41b34a" stroke-width="0.75" stroke-opacity="1"/>
<line x1="137.5" y1="450.82" x2="213.9" y2="450.82" stroke="#41b34a" stroke-width="0.75" stroke-opacity="1"/>
<line x1="137.5" y1="451.10" x2="229.1" y2="451.10" stroke="#41b34a" stroke-width="0.75" stroke-opacity="1"/>
<line x1="122.2" y1="451.38" x2="252.1" y2="451.38" stroke="#41b34a" stroke-width="0.75" stroke-opacity="1"/>
<line x1="137.5" y1="451.66" x2="206.2" y2="451.66" stroke="#41b34a" stroke-width="0.75" stroke-opacity="1"/>
<line x1="114.5" y1="451.95" x2="229.1" y2="451.95" stroke="#41b34a" stroke-width="0.75" stroke-opacity="1"/>
<line x1="129.8" y1="452.23" x2="198.6" y2="452.23" stroke="#41b34a" stroke-width="0.75" stroke-opacity="1"/>
<line x1="99.3" y1="452.51" x2="190.9" y2="452.51" stroke="#41b34a" stroke-width="0.75" stroke-opacity="1"/>
<line x1="114.5" y1="452.79" x2="190.9" y2="452.79" stroke="#41b34a" stroke-width="0.75" stroke-opacity="1"/>
<line x1="145.1" y1="453.07" x2="236.8" y2="453.07" stroke="#41b34a" stroke-width="0.75" stroke-opacity="1"/>
<line x1="137.5" y1="453.35" x2="206.2" y2="453.35" stroke="#41b34a" stroke-width="0.75" stroke-opacity="1"/>
<line x1="160.4" y1="453.64" x2="213.9" y2="453.64" stroke="#41b34a" stroke-width="0.75" stroke-opacity="1"/>
<line x1="122.2" y1="453.92" x2="206.2" y2="453.92" stroke="#41b34a" stroke-width="0.75" stroke-opacity="1"/>
<line x1="152.7" y1="454.20" x2="206.2" y2="454.20" stroke="#41b34a" stroke-width="0.75" stroke-opacity="1"/>
<line x1="122.2" y1="454.48" x2="221.5" y2="454.48" stroke="#41b34a" stroke-width="0.75" stroke-opacity="1"/>
<line x1="145.1" y1="454.76" x2="244.4" y2="454.76" stroke="#41b34a" stroke-width="0.75" stroke-opacity="1"/>
<line x1="114.5" y1="455.04" x2="259.7" y2="455.04" stroke="#41b34a" stroke-width="0.75" stroke-opacity="1"/>
<line x1="106.9" y1="455.33" x2="206.2" y2="455.33" stroke="#41b34a" stroke-width="0.75" stroke-opacity="1"/>
<line x1="145.1" y1="455.61" x2="213.9" y2="455.61" stroke="#41b34a" stroke-width="0.75" stroke-opacity="1"/>
<line x1="137.5" y1="455.89" x2="190.9" y2="455.89" stroke="#41b34a" stroke-width="0.75" stroke-opacity="1"/>
<line x1="122.2" y1="456.17" x2="244.4" y2="456.17" stroke="#41b34a" stroke-width="0.75" stroke-opacity="1"/>
<line x1="99.3" y1="456.45" x2="236.8" y2="456.45" stroke="#41b34a" stroke-width="0.75" stroke-opacity="1"/>
<line x1="137.5" y1="456.73" x2="236.8" y2="456.73" stroke="#41b34a" stroke-width="0.75" stroke-opacity="1"/>
<line x1="99.3" y1="457.02" x2="213.9" y2="457.02" stroke="#41b34a" stroke-width="0.75" stroke-opacity="1"/>
<line x1="106.9" y1="457.30" x2="229.1" y2="457.30" stroke="#41b34a" stroke-width="0.75" stroke-opacity="1"/>
<line x1="145.1" y1="457.58" x2="252.1" y2="457.58" stroke="#41b34a" stroke-width="0.75" stroke-opacity="1"/>
<line x1="114.5" y1="457.86" x2="183.3" y2="457.86" stroke="#41b34a" stroke-width="0.75" stroke-opacity="1"/>
<line x1="122.2" y1="458.14" x2="206.2" y2="458.14" stroke="#41b34a" stroke-width="0.75" stroke-opacity="1"/>
<line x1="175.7" y1="458.42" x2="221.5" y2="458.42" stroke="#41b34a" stroke-width="0.75" stroke-opacity="1"/>
<line x1="152.7" y1="458.71" x2="259.7" y2="458.71" stroke="#41b34a" stroke-width="0.75" stroke-opacity="1"/>
<line x1="99.3" y1="458.99" x2="244.4" y2="458.99" stroke="#41b34a" stroke-width="0.75" stroke-opacity="1"/>
<line x1="168.0" y1="459.27" x2="206.2" y2="459.27" stroke="#41b34a" stroke-width="0.75" stroke-opacity="1"/>
<line x1="114.5" y1="459.55" x2="190.9" y2="459.55" stroke="#41b34a" stroke-width="0.75" stroke-opacity="1"/>
<line x1="68.7" y1="459.83" x2="236.8" y2="459.83" stroke="#41b34a" stroke-width="0.75" stroke-opacity="1"/>
<line x1="129.8" y1="460.11" x2="259.7" y2="460.11" stroke="#41b34a" stroke-width="0.75" stroke-opacity="1"/>
<line x1="114.5" y1="460.40" x2="206.2" y2="460.40" stroke="#41b34a" stroke-width="0.75" stroke-opacity="1"/>
<line x1="122.2" y1="460.68" x2="190.9" y2="460.68" stroke="#41b34a" stroke-width="0.75" stroke-opacity="1"/>
<line x1="175.7" y1="460.96" x2="236.8" y2="460.96" stroke="#41b34a" stroke-width="0.75" stroke-opacity="1"/>
<line x1="129.8" y1="461.24" x2="236.8" y2="461.24" stroke="#41b34a" stroke-width="0.75" stroke-opacity="1"/>
<line x1="137.5" y1="461.52" x2="190.9" y2="461.52" stroke="#41b34a" stroke-width="0.75" stroke-opacity="1"/>
<line x1="122.2" y1="461.80" x2="236.8" y2="461.80" stroke="#41b34a" stroke-width="0.75" stroke-opacity="1"/>
<line x1="129.8" y1="462.09" x2="206.2" y2="462.09" stroke="#41b34a" stroke-width="0.75" stroke-opacity="1"/>
<line x1="114.5" y1="462.37" x2="206.2" y2="462.37" stroke="#41b34a" stroke-width="0.75" stroke-opacity="1"/>
<line x1="61.1" y1="462.65" x2="229.1" y2="462.65" stroke="#41b34a" stroke-width="0.75" stroke-opacity="1"/>
<line x1="106.9" y1="462.93" x2="236.8" y2="462.93" stroke="#41b34a" stroke-width="0.75" stroke-opacity="1"/>
<line x1="137.5" y1="463.21" x2="252.1" y2="463.21" stroke="#41b34a" stroke-width="0.75" stroke-opacity="1"/>
<line x1="137.5" y1="463.49" x2="183.3" y2="463.49" stroke="#41b34a" stroke-width="0.75" stroke-opacity="1"/>
<line x1="114.5" y1="463.78" x2="244.4" y2="463.78" stroke="#41b34a" stroke-width="0.75" stroke-opacity="1"/>
<line x1="114.5" y1="464.06" x2="244.4" y2="464.06" stroke="#41b34a" stroke-width="0.75" stroke-opacity="1"/>
<line x1="68.7" y1="464.34" x2="213.9" y2="464.34" stroke="#41b34a" stroke-width="0.75" stroke-opacity="1"/>
<line x1="145.1" y1="464.62" x2="221.5" y2="464.62" stroke="#41b34a" stroke-width="0.75" stroke-opacity="1"/>
<line x1="106.9" y1="464.90" x2="244.4" y2="464.90" stroke="#41b34a" stroke-width="0.75" stroke-opacity="1"/>
<line x1="53.4" y1="465.18" x2="206.2" y2="465.18" stroke="#41b34a" stroke-width="0.75" stroke-opacity="1"/>
<line x1="106.9" y1="465.47" x2="190.9" y2="465.47" stroke="#41b34a" stroke-width="0.75" stroke-opacity="1"/>
<line x1="76.3" y1="465.75" x2="236.8" y2="465.75" stroke="#41b34a" stroke-width="0.75" stroke-opacity="1"/>
<line x1="84.0" y1="466.03" x2="259.7" y2="466.03" stroke="#41b34a" stroke-width="0.75" stroke-opacity="1"/>
<line x1="145.1" y1="466.31" x2="236.8" y2="466.31" stroke="#41b34a" stroke-width="0.75" stroke-opacity="1"/>
<line x1="68.7" y1="466.59" x2="252.1" y2="466.59" stroke="#41b34a" stroke-width="0.75" stroke-opacity="1"/>
<line x1="99.3" y1="466.87" x2="206.2" y2="466.87" stroke="#41b34a" stroke-width="0.75" stroke-opacity="1"/>
<line x1="68.7" y1="467.16" x2="198.6" y2="467.16" stroke="#41b34a" stroke-width="0.75" stroke-opacity="1"/>
<line x1="76.3" y1="467.44" x2="229.1" y2="467.44" stroke="#41b34a" stroke-width="0.75" stroke-opacity="1"/>
<line x1="99.3" y1="467.72" x2="236.8" y2="467.72" stroke="#41b34a" stroke-width="0.75" stroke-opacity="1"/>
<line x1="129.8" y1="475.80" x2="213.9" y2="475.80" stroke="#3e84bf" stroke-width="0.75" stroke-opacity="1"/>
<line x1="137.5" y1="476.11" x2="190.9" y2="476.11" stroke="#3e84bf" stroke-width="0.75" stroke-opacity="1"/>
<line x1="61.1" y1="476.42" x2="198.6" y2="476.42" stroke="#3e84bf" stroke-width="0.75" stroke-opacity="1"/>
<line x1="122.2" y1="476.73" x2="221.5" y2="476.73" stroke="#3e84bf" stroke-width="0.75" stroke-opacity="1"/>
<line x1="137.5" y1="477.04" x2="213.9" y2="477.04" stroke="#3e84bf" stroke-width="0.75" stroke-opacity="1"/>
<line x1="137.5" y1="477.35" x2="213.9" y2="477.35" stroke="#3e84bf" stroke-width="0.75" stroke-opacity="1"/>
<line x1="106.9" y1="477.66" x2="206.2" y2="477.66" stroke="#3e84bf" stroke-width="0.75" stroke-opacity="1"/>
<line x1="114.5" y1="477.97" x2="221.5" y2="477.97" stroke="#3e84bf" stroke-width="0.75" stroke-opacity="1"/>
<line x1="99.3" y1="478.28" x2="221.5" y2="478.28" stroke="#3e84bf" stroke-width="0.75" stroke-opacity="1"/>
<line x1="99.3" y1="478.59" x2="213.9" y2="478.59" stroke="#3e84bf" stroke-width="0.75" stroke-opacity="1"/>
<line x1="129.8" y1="478.90" x2="206.2" y2="478.90" stroke="#3e84bf" stroke-width="0.75" stroke-opacity="1"/>
<line x1="152.7" y1="479.21" x2="175.7" y2="479.21" stroke="#3e84bf" stroke-width="0.75" stroke-opacity="1"/>
<line x1="99.3" y1="479.52" x2="221.5" y2="479.52" stroke="#3e84bf" stroke-width="0.75" stroke-opacity="1"/>
<line x1="129.8" y1="479.83" x2="183.3" y2="479.83" stroke="#3e84bf" stroke-width="0.75" stroke-opacity="1"/>
<line x1="183.3" y1="480.14" x2="229.1" y2="480.14" stroke="#3e84bf" stroke-width="0.75" stroke-opacity="1"/>
<line x1="106.9" y1="480.45" x2="206.2" y2="480.45" stroke="#3e84bf" stroke-width="0.75" stroke-opacity="1"/>
<line x1="106.9" y1="480.76" x2="198.6" y2="480.76" stroke="#3e84bf" stroke-width="0.75" stroke-opacity="1"/>
<line x1="137.5" y1="481.07" x2="190.9" y2="481.07" stroke="#3e84bf" stroke-width="0.75" stroke-opacity="1"/>
<line x1="137.5" y1="481.38" x2="183.3" y2="481.38" stroke="#3e84bf" stroke-width="0.75" stroke-opacity="1"/>
<line x1="114.5" y1="481.69" x2="221.5" y2="481.69" stroke="#3e84bf" stroke-width="0.75" stroke-opacity="1"/>
<line x1="129.8" y1="482.00" x2="206.2" y2="482.00" stroke="#3e84bf" stroke-width="0.75" stroke-opacity="1"/>
<line x1="137.5" y1="482.31" x2="206.2" y2="482.31" stroke="#3e84bf" stroke-width="0.75" stroke-opacity="1"/>
<line x1="129.8" y1="482.62" x2="175.7" y2="482.62" stroke="#3e84bf" stroke-width="0.75" stroke-opacity="1"/>
<line x1="137.5" y1="482.93" x2="229.1" y2="482.93" stroke="#3e84bf" stroke-width="0.75" stroke-opacity="1"/>
<line x1="175.7" y1="483.24" x2="213.9" y2="483.24" stroke="#3e84bf" stroke-width="0.75" stroke-opacity="1"/>
<line x1="129.8" y1="483.55" x2="198.6" y2="483.55" stroke="#3e84bf" stroke-width="0.75" stroke-opacity="1"/>
<line x1="137.5" y1="483.86" x2="213.9" y2="483.86" stroke="#3e84bf" stroke-width="0.75" stroke-opacity="1"/>
<line x1="106.9" y1="484.17" x2="190.9" y2="484.17" stroke="#3e84bf" stroke-width="0.75" stroke-opacity="1"/>
<line x1="129.8" y1="484.47" x2="206.2" y2="484.47" stroke="#3e84bf" stroke-width="0.75" stroke-opacity="1"/>
<line x1="145.1" y1="484.78" x2="206.2" y2="484.78" stroke="#3e84bf" stroke-width="0.75" stroke-opacity="1"/>
<line x1="76.3" y1="485.09" x2="221.5" y2="485.09" stroke="#3e84bf" stroke-width="0.75" stroke-opacity="1"/>
<line x1="129.8" y1="485.40" x2="206.2" y2="485.40" stroke="#3e84bf" stroke-width="0.75" stroke-opacity="1"/>
<line x1="122.2" y1="485.71" x2="206.2" y2="485.71" stroke="#3e84bf" stroke-width="0.75" stroke-opacity="1"/>
<line x1="129.8" y1="486.02" x2="213.9" y2="486.02" stroke="#3e84bf" stroke-width="0.75" stroke-opacity="1"/>
<line x1="106.9" y1="486.33" x2="206.2" y2="486.33" stroke="#3e84bf" stroke-width="0.75" stroke-opacity="1"/>
<line x1="114.5" y1="486.64" x2="213.9" y2="486.64" stroke="#3e84bf" stroke-width="0.75" stroke-opacity="1"/>
<line x1="84.0" y1="486.95" x2="198.6" y2="486.95" stroke="#3e84bf" stroke-width="0.75" stroke-opacity="1"/>
<line x1="129.8" y1="487.26" x2="213.9" y2="487.26" stroke="#3e84bf" stroke-width="0.75" stroke-opacity="1"/>
<line x1="99.3" y1="487.57" x2="206.2" y2="487.57" stroke="#3e84bf" stroke-width="0.75" stroke-opacity="1"/>
<line x1="114.5" y1="487.88" x2="198.6" y2="487.88" stroke="#3e84bf" stroke-width="0.75" stroke-opacity="1"/>
<line x1="129.8" y1="488.19" x2="229.1" y2="488.19" stroke="#3e84bf" stroke-width="0.75" stroke-opacity="1"/>
<line x1="129.8" y1="488.50" x2="229.1" y2="488.50" stroke="#3e84bf" stroke-width="0.75" stroke-opacity="1"/>
<line x1="114.5" y1="488.81" x2="221.5" y2="488.81" stroke="#3e84bf" stroke-width="0.75" stroke-opacity="1"/>
<line x1="129.8" y1="489.12" x2="190.9" y2="489.12" stroke="#3e84bf" stroke-width="0.75" stroke-opacity="1"/>
<line x1="145.1" y1="489.43" x2="221.5" y2="489.43" stroke="#3e84bf" stroke-width="0.75" stroke-opacity="1"/>
<line x1="61.1" y1="489.74" x2="198.6" y2="489.74" stroke="#3e84bf" stroke-width="0.75" stroke-opacity="1"/>
<line x1="145.1" y1="490.05" x2="198.6" y2="490.05" stroke="#3e84bf" stroke-width="0.75" stroke-opacity="1"/>
<line x1="122.2" y1="490.36" x2="168.0" y2="490.36" stroke="#3e84bf" stroke-width="0.75" stroke-opacity="1"/>
<line x1="91.6" y1="490.67" x2="213.9" y2="490.67" stroke="#3e84bf" stroke-width="0.75" stroke-opacity="1"/>
<line x1="183.3" y1="490.98" x2="244.4" y2="490.98" stroke="#3e84bf" stroke-width="0.75" stroke-opacity="1"/>
<line x1="129.8" y1="491.29" x2="175.7" y2="491.29" stroke="#3e84bf" stroke-width="0.75" stroke-opacity="1"/>
<line x1="129.8" y1="491.60" x2="213.9" y2="491.60" stroke="#3e84bf" stroke-width="0.75" stroke-opacity="1"/>
<line x1="152.7" y1="491.91" x2="213.9" y2="491.91" stroke="#3e84bf" stroke-width="0.75" stroke-opacity="1"/>
<line x1="122.2" y1="492.22" x2="206.2" y2="492.22" stroke="#3e84bf" stroke-width="0.75" stroke-opacity="1"/>
<line x1="129.8" y1="492.53" x2="213.9" y2="492.53" stroke="#3e84bf" stroke-width="0.75" stroke-opacity="1"/>
<line x1="122.2" y1="492.84" x2="229.1" y2="492.84" stroke="#3e84bf" stroke-width="0.75" stroke-opacity="1"/>
<line x1="160.4" y1="493.15" x2="190.9" y2="493.15" stroke="#3e84bf" stroke-width="0.75" stroke-opacity="1"/>
<line x1="122.2" y1="493.46" x2="221.5" y2="493.46" stroke="#3e84bf" stroke-width="0.75" stroke-opacity="1"/>
<line x1="122.2" y1="493.77" x2="221.5" y2="493.77" stroke="#3e84bf" stroke-width="0.75" stroke-opacity="1"/>
<line x1="129.8" y1="494.08" x2="213.9" y2="494.08" stroke="#3e84bf" stroke-width="0.75" stroke-opacity="1"/>
<line x1="137.5" y1="494.39" x2="190.9" y2="494.39" stroke="#3e84bf" stroke-width="0.75" stroke-opacity="1"/>
<line x1="122.2" y1="494.70" x2="198.6" y2="494.70" stroke="#3e84bf" stroke-width="0.75" stroke-opacity="1"/>
<line x1="137.5" y1="495.01" x2="213.9" y2="495.01" stroke="#3e84bf" stroke-width="0.75" stroke-opacity="1"/>
<line x1="106.9" y1="495.32" x2="221.5" y2="495.32" stroke="#3e84bf" stroke-width="0.75" stroke-opacity="1"/>
<line x1="129.8" y1="495.63" x2="198.6" y2="495.63" stroke="#3e84bf" stroke-width="0.75" stroke-opacity="1"/>
<line x1="129.8" y1="495.94" x2="236.8" y2="495.94" stroke="#3e84bf" stroke-width="0.75" stroke-opacity="1"/>
<line x1="137.5" y1="496.25" x2="213.9" y2="496.25" stroke="#3e84bf" stroke-width="0.75" stroke-opacity="1"/>
<line x1="168.0" y1="496.56" x2="229.1" y2="496.56" stroke="#3e84bf" stroke-width="0.75" stroke-opacity="1"/>
<line x1="145.1" y1="496.87" x2="206.2" y2="496.87" stroke="#3e84bf" stroke-width="0.75" stroke-opacity="1"/>
<line x1="137.5" y1="497.18" x2="221.5" y2="497.18" stroke="#3e84bf" stroke-width="0.75" stroke-opacity="1"/>
<line x1="145.1" y1="497.49" x2="206.2" y2="497.49" stroke="#3e84bf" stroke-width="0.75" stroke-opacity="1"/>
<line x1="129.8" y1="497.80" x2="198.6" y2="497.80" stroke="#3e84bf" stroke-width="0.75" stroke-opacity="1"/>
<line x1="137.5" y1="498.11" x2="206.2" y2="498.11" stroke="#3e84bf" stroke-width="0.75" stroke-opacity="1"/>
<line x1="68.7" y1="498.42" x2="213.9" y2="498.42" stroke="#3e84bf" stroke-width="0.75" stroke-opacity="1"/>
<line x1="160.4" y1="498.73" x2="213.9" y2="498.73" stroke="#3e84bf" stroke-width="0.75" stroke-opacity="1"/>
<line x1="160.4" y1="499.04" x2="221.5" y2="499.04" stroke="#3e84bf" stroke-width="0.75" stroke-opacity="1"/>
<line x1="137.5" y1="499.35" x2="213.9" y2="499.35" stroke="#3e84bf" stroke-width="0.75" stroke-opacity="1"/>
<line x1="129.8" y1="499.66" x2="183.3" y2="499.66" stroke="#3e84bf" stroke-width="0.75" stroke-opacity="1"/>
<line x1="129.8" y1="499.97" x2="198.6" y2="499.97" stroke="#3e84bf" stroke-width="0.75" stroke-opacity="1"/>
<line x1="168.0" y1="500.28" x2="213.9" y2="500.28" stroke="#3e84bf" stroke-width="0.75" stroke-opacity="1"/>
<line x1="137.5" y1="500.59" x2="213.9" y2="500.59" stroke="#3e84bf" stroke-width="0.75" stroke-opacity="1"/>
<line x1="106.9" y1="500.90" x2="206.2" y2="500.90" stroke="#3e84bf" stroke-width="0.75" stroke-opacity="1"/>
<line x1="137.5" y1="501.20" x2="198.6" y2="501.20" stroke="#3e84bf" stroke-width="0.75" stroke-opacity="1"/>
<line x1="122.2" y1="501.51" x2="206.2" y2="501.51" stroke="#3e84bf" stroke-width="0.75" stroke-opacity="1"/>
<line x1="129.8" y1="501.82" x2="213.9" y2="501.82" stroke="#3e84bf" stroke-width="0.75" stroke-opacity="1"/>
<line x1="106.9" y1="502.13" x2="183.3" y2="502.13" stroke="#3e84bf" stroke-width="0.75" stroke-opacity="1"/>
<line x1="129.8" y1="502.44" x2="213.9" y2="502.44" stroke="#3e84bf" stroke-width="0.75" stroke-opacity="1"/>
<line x1="145.1" y1="502.75" x2="213.9" y2="502.75" stroke="#3e84bf" stroke-width="0.75" stroke-opacity="1"/>
<line x1="168.0" y1="503.06" x2="198.6" y2="503.06" stroke="#3e84bf" stroke-width="0.75" stroke-opacity="1"/>
<line x1="76.3" y1="503.37" x2="206.2" y2="503.37" stroke="#3e84bf" stroke-width="0.75" stroke-opacity="1"/>
<line x1="129.8" y1="503.68" x2="190.9" y2="503.68" stroke="#3e84bf" stroke-width="0.75" stroke-opacity="1"/>
<line x1="137.5" y1="503.99" x2="198.6" y2="503.99" stroke="#3e84bf" stroke-width="0.75" stroke-opacity="1"/>
<line x1="122.2" y1="504.30" x2="198.6" y2="504.30" stroke="#3e84bf" stroke-width="0.75" stroke-opacity="1"/>
<line x1="129.8" y1="504.61" x2="198.6" y2="504.61" stroke="#3e84bf" stroke-width="0.75" stroke-opacity="1"/>
<line x1="114.5" y1="504.92" x2="206.2" y2="504.92" stroke="#3e84bf" stroke-width="0.75" stroke-opacity="1"/>
<line x1="122.2" y1="505.23" x2="221.5" y2="505.23" stroke="#3e84bf" stroke-width="0.75" stroke-opacity="1"/>
<line x1="129.8" y1="505.54" x2="213.9" y2="505.54" stroke="#3e84bf" stroke-width="0.75" stroke-opacity="1"/>
<line x1="114.5" y1="505.85" x2="206.2" y2="505.85" stroke="#3e84bf" stroke-width="0.75" stroke-opacity="1"/>
<line x1="137.5" y1="506.16" x2="221.5" y2="506.16" stroke="#3e84bf" stroke-width="0.75" stroke-opacity="1"/>
<line x1="122.2" y1="506.47" x2="206.2" y2="506.47" stroke="#3e84bf" stroke-width="0.75" stroke-opacity="1"/>
<line x1="152.7" y1="506.78" x2="221.5" y2="506.78" stroke="#3e84bf" stroke-width="0.75" stroke-opacity="1"/>
<line x1="122.2" y1="507.09" x2="206.2" y2="507.09" stroke="#3e84bf" stroke-width="0.75" stroke-opacity="1"/>
<line x1="145.1" y1="507.40" x2="198.6" y2="507.40" stroke="#3e84bf" stroke-width="0.75" stroke-opacity="1"/>
<line x1="137.5" y1="507.71" x2="213.9" y2="507.71" stroke="#3e84bf" stroke-width="0.75" stroke-opacity="1"/>
<line x1="175.7" y1="508.02" x2="206.2" y2="508.02" stroke="#3e84bf" stroke-width="0.75" stroke-opacity="1"/>
<line x1="137.5" y1="508.33" x2="198.6" y2="508.33" stroke="#3e84bf" stroke-width="0.75" stroke-opacity="1"/>
<line x1="137.5" y1="508.64" x2="198.6" y2="508.64" stroke="#3e84bf" stroke-width="0.75" stroke-opacity="1"/>
<line x1="129.8" y1="508.95" x2="198.6" y2="508.95" stroke="#3e84bf" stroke-width="0.75" stroke-opacity="1"/>
<line x1="129.8" y1="509.26" x2="190.9" y2="509.26" stroke="#3e84bf" stroke-width="0.75" stroke-opacity="1"/>
<line x1="122.2" y1="509.57" x2="206.2" y2="509.57" stroke="#3e84bf" stroke-width="0.75" stroke-opacity="1"/>
<line x1="122.2" y1="509.88" x2="183.3" y2="509.88" stroke="#3e84bf" stroke-width="0.75" stroke-opacity="1"/>
<line x1="145.1" y1="510.19" x2="198.6" y2="510.19" stroke="#3e84bf" stroke-width="0.75" stroke-opacity="1"/>
<line x1="168.0" y1="510.50" x2="206.2" y2="510.50" stroke="#3e84bf" stroke-width="0.75" stroke-opacity="1"/>
<line x1="129.8" y1="510.81" x2="221.5" y2="510.81" stroke="#3e84bf" stroke-width="0.75" stroke-opacity="1"/>
<line x1="160.4" y1="511.12" x2="198.6" y2="511.12" stroke="#3e84bf" stroke-width="0.75" stroke-opacity="1"/>
<line x1="106.9" y1="511.43" x2="213.9" y2="511.43" stroke="#3e84bf" stroke-width="0.75" stroke-opacity="1"/>
<line x1="152.7" y1="511.74" x2="213.9" y2="511.74" stroke="#3e84bf" stroke-width="0.75" stroke-opacity="1"/>
<line x1="145.1" y1="512.05" x2="206.2" y2="512.05" stroke="#3e84bf" stroke-width="0.75" stroke-opacity="1"/>
<line x1="137.5" y1="512.36" x2="198.6" y2="512.36" stroke="#3e84bf" stroke-width="0.75" stroke-opacity="1"/>
<line x1="129.8" y1="512.67" x2="198.6" y2="512.67" stroke="#3e84bf" stroke-width="0.75" stroke-opacity="1"/>
<line x1="129.8" y1="512.98" x2="198.6" y2="512.98" stroke="#3e84bf" stroke-width="0.75" stroke-opacity="1"/>
<line x1="145.1" y1="513.29" x2="190.9" y2="513.29" stroke="#3e84bf" stroke-width="0.75" stroke-opacity="1"/>
<line x1="114.5" y1="513.60" x2="198.6" y2="513.60" stroke="#3e84bf" stroke-width="0.75" stroke-opacity="1"/>
<line x1="175.7" y1="513.91" x2="206.2" y2="513.91" stroke="#3e84bf" stroke-width="0.75" stroke-opacity="1"/>
<line x1="99.3" y1="514.22" x2="221.5" y2="514.22" stroke="#3e84bf" stroke-width="0.75" stroke-opacity="1"/>
<line x1="160.4" y1="514.53" x2="221.5" y2="514.53" stroke="#3e84bf" stroke-width="0.75" stroke-opacity="1"/>
<line x1="129.8" y1="514.84" x2="213.9" y2="514.84" stroke="#3e84bf" stroke-width="0.75" stroke-opacity="1"/>
<line x1="129.8" y1="515.15" x2="190.9" y2="515.15" stroke="#3e84bf" stroke-width="0.75" stroke-opacity="1"/>
<line x1="152.7" y1="515.46" x2="221.5" y2="515.46" stroke="#3e84bf" stroke-width="0.75" stroke-opacity="1"/>
<line x1="114.5" y1="515.77" x2="221.5" y2="515.77" stroke="#3e84bf" stroke-width="0.75" stroke-opacity="1"/>
<line x1="76.3" y1="516.08" x2="198.6" y2="516.08" stroke="#3e84bf" stroke-width="0.75" stroke-opacity="1"/>
<line x1="61.1" y1="516.39" x2="190.9" y2="516.39" stroke="#3e84bf" stroke-width="0.75" stroke-opacity="1"/>
<line x1="114.5" y1="516.70" x2="213.9" y2="516.70" stroke="#3e84bf" stroke-width="0.75" stroke-opacity="1"/>
<line x1="122.2" y1="517.01" x2="190.9" y2="517.01" stroke="#3e84bf" stroke-width="0.75" stroke-opacity="1"/>
<line x1="114.5" y1="517.32" x2="198.6" y2="517.32" stroke="#3e84bf" stroke-width="0.75" stroke-opacity="1"/>
<line x1="152.7" y1="517.63" x2="213.9" y2="517.63" stroke="#3e84bf" stroke-width="0.75" stroke-opacity="1"/>
<line x1="106.9" y1="517.93" x2="213.9" y2="517.93" stroke="#3e84bf" stroke-width="0.75" stroke-opacity="1"/>
<line x1="137.5" y1="518.24" x2="206.2" y2="518.24" stroke="#3e84bf" stroke-width="0.75" stroke-opacity="1"/>
<line x1="137.5" y1="518.55" x2="213.9" y2="518.55" stroke="#3e84bf" stroke-width="0.75" stroke-opacity="1"/>
<line x1="145.1" y1="518.86" x2="206.2" y2="518.86" stroke="#3e84bf" stroke-width="0.75" stroke-opacity="1"/>
<line x1="137.5" y1="519.17" x2="206.2" y2="519.17" stroke="#3e84bf" stroke-width="0.75" stroke-opacity="1"/>
<line x1="137.5" y1="519.48" x2="198.6" y2="519.48" stroke="#3e84bf" stroke-width="0.75" stroke-opacity="1"/>
<line x1="129.8" y1="519.79" x2="206.2" y2="519.79" stroke="#3e84bf" stroke-width="0.75" stroke-opacity="1"/>
<line x1="137.5" y1="520.10" x2="198.6" y2="520.10" stroke="#3e84bf" stroke-width="0.75" stroke-opacity="1"/>
<line x1="168.0" y1="520.41" x2="206.2" y2="520.41" stroke="#3e84bf" stroke-width="0.75" stroke-opacity="1"/>
<line x1="152.7" y1="520.72" x2="213.9" y2="520.72" stroke="#3e84bf" stroke-width="0.75" stroke-opacity="1"/>
<line x1="175.7" y1="521.03" x2="213.9" y2="521.03" stroke="#3e84bf" stroke-width="0.75" stroke-opacity="1"/>
<line x1="129.8" y1="521.34" x2="206.2" y2="521.34" stroke="#3e84bf" stroke-width="0.75" stroke-opacity="1"/>
<line x1="137.5" y1="521.65" x2="213.9" y2="521.65" stroke="#3e84bf" stroke-width="0.75" stroke-opacity="1"/>
<line x1="152.7" y1="521.96" x2="190.9" y2="521.96" stroke="#3e84bf" stroke-width="0.75" stroke-opacity="1"/>
<line x1="99.3" y1="522.27" x2="183.3" y2="522.27" stroke="#3e84bf" stroke-width="0.75" stroke-opacity="1"/>
<line x1="99.3" y1="522.58" x2="183.3" y2="522.58" stroke="#3e84bf" stroke-width="0.75" stroke-opacity="1"/>
<line x1="61.1" y1="522.89" x2="198.6" y2="522.89" stroke="#3e84bf" stroke-width="0.75" stroke-opacity="1"/>
<line x1="106.9" y1="523.20" x2="213.9" y2="523.20" stroke="#3e84bf" stroke-width="0.75" stroke-opacity="1"/>
<line x1="137.5" y1="523.51" x2="229.1" y2="523.51" stroke="#3e84bf" stroke-width="0.75" stroke-opacity="1"/>
<line x1="175.7" y1="523.82" x2="213.9" y2="523.82" stroke="#3e84bf" stroke-width="0.75" stroke-opacity="1"/>
<line x1="122.2" y1="524.13" x2="221.5" y2="524.13" stroke="#3e84bf" stroke-width="0.75" stroke-opacity="1"/>
<line x1="129.8" y1="524.44" x2="190.9" y2="524.44" stroke="#3e84bf" stroke-width="0.75" stroke-opacity="1"/>
<line x1="145.1" y1="524.75" x2="206.2" y2="524.75" stroke="#3e84bf" stroke-width="0.75" stroke-opacity="1"/>
<line x1="137.5" y1="525.06" x2="198.6" y2="525.06" stroke="#3e84bf" stroke-width="0.75" stroke-opacity="1"/>
<line x1="122.2" y1="525.37" x2="183.3" y2="525.37" stroke="#3e84bf" stroke-width="0.75" stroke-opacity="1"/>
<line x1="137.5" y1="525.68" x2="229.1" y2="525.68" stroke="#3e84bf" stroke-width="0.75" stroke-opacity="1"/>
<line x1="183.3" y1="525.99" x2="213.9" y2="525.99" stroke="#3e84bf" stroke-width="0.75" stroke-opacity="1"/>
<polygon points="116,474 137,470 198,467.4 259.7,467.0 275,467.5 320.5,470 320.5,473.5 259.7,475.2 116,475.2" fill="#ef8024"/>
<line x1="53.3" y1="473.60" x2="116.0" y2="473.60" stroke="#ef8024" stroke-width="0.8" stroke-opacity="0.8"/>
<rect x="137.4" y="473.4" width="122.3" height="2.6" fill="#fa2424"/>
<line x1="305.0" y1="474.40" x2="350.0" y2="474.40" stroke="#9d65bb" stroke-width="0.9" stroke-opacity="1"/>
<line x1="53.3" y1="472.4" x2="259.7" y2="472.4" stroke="#41b34a" stroke-width="1.0" />
<line x1="305" y1="472.5" x2="465.8" y2="472.5" stroke="#111" stroke-width="1.4" />
<line x1="53.3" y1="531.5" x2="465.8" y2="531.5" stroke="#111" stroke-width="1.4" />
<line x1="351.4" y1="532.50" x2="366.7" y2="532.50" stroke="#41b34a" stroke-width="0.75" stroke-opacity="1"/>
<line x1="275.0" y1="532.81" x2="351.4" y2="532.81" stroke="#41b34a" stroke-width="0.75" stroke-opacity="1"/>
<line x1="305.5" y1="533.12" x2="389.6" y2="533.12" stroke="#41b34a" stroke-width="0.75" stroke-opacity="1"/>
<line x1="267.3" y1="533.43" x2="351.4" y2="533.43" stroke="#41b34a" stroke-width="0.75" stroke-opacity="1"/>
<line x1="275.0" y1="533.74" x2="404.9" y2="533.74" stroke="#41b34a" stroke-width="0.75" stroke-opacity="1"/>
<line x1="320.8" y1="534.05" x2="397.2" y2="534.05" stroke="#41b34a" stroke-width="0.75" stroke-opacity="1"/>
<line x1="313.2" y1="534.36" x2="404.9" y2="534.36" stroke="#41b34a" stroke-width="0.75" stroke-opacity="1"/>
<line x1="336.1" y1="534.67" x2="359.0" y2="534.67" stroke="#41b34a" stroke-width="0.75" stroke-opacity="1"/>
<line x1="259.7" y1="534.98" x2="397.2" y2="534.98" stroke="#41b34a" stroke-width="0.75" stroke-opacity="1"/>
<line x1="305.5" y1="535.29" x2="389.6" y2="535.29" stroke="#41b34a" stroke-width="0.75" stroke-opacity="1"/>
<line x1="297.9" y1="535.60" x2="404.9" y2="535.60" stroke="#41b34a" stroke-width="0.75" stroke-opacity="1"/>
<line x1="275.0" y1="535.91" x2="374.3" y2="535.91" stroke="#41b34a" stroke-width="0.75" stroke-opacity="1"/>
<line x1="275.0" y1="536.23" x2="359.0" y2="536.23" stroke="#41b34a" stroke-width="0.75" stroke-opacity="1"/>
<line x1="290.3" y1="536.54" x2="381.9" y2="536.54" stroke="#41b34a" stroke-width="0.75" stroke-opacity="1"/>
<line x1="275.0" y1="536.85" x2="427.8" y2="536.85" stroke="#41b34a" stroke-width="0.75" stroke-opacity="1"/>
<line x1="275.0" y1="537.16" x2="366.7" y2="537.16" stroke="#41b34a" stroke-width="0.75" stroke-opacity="1"/>
<line x1="259.7" y1="537.47" x2="412.5" y2="537.47" stroke="#41b34a" stroke-width="0.75" stroke-opacity="1"/>
<line x1="313.2" y1="537.78" x2="366.7" y2="537.78" stroke="#41b34a" stroke-width="0.75" stroke-opacity="1"/>
<line x1="282.6" y1="538.09" x2="435.4" y2="538.09" stroke="#41b34a" stroke-width="0.75" stroke-opacity="1"/>
<line x1="282.6" y1="538.40" x2="427.8" y2="538.40" stroke="#41b34a" stroke-width="0.75" stroke-opacity="1"/>
<line x1="259.7" y1="538.71" x2="343.7" y2="538.71" stroke="#41b34a" stroke-width="0.75" stroke-opacity="1"/>
<line x1="336.1" y1="539.02" x2="351.4" y2="539.02" stroke="#41b34a" stroke-width="0.75" stroke-opacity="1"/>
<line x1="305.5" y1="539.33" x2="351.4" y2="539.33" stroke="#41b34a" stroke-width="0.75" stroke-opacity="1"/>
<line x1="259.7" y1="539.64" x2="351.4" y2="539.64" stroke="#41b34a" stroke-width="0.75" stroke-opacity="1"/>
<line x1="275.0" y1="539.95" x2="336.1" y2="539.95" stroke="#41b34a" stroke-width="0.75" stroke-opacity="1"/>
<line x1="328.5" y1="540.26" x2="404.9" y2="540.26" stroke="#41b34a" stroke-width="0.75" stroke-opacity="1"/>
<line x1="275.0" y1="540.57" x2="366.7" y2="540.57" stroke="#41b34a" stroke-width="0.75" stroke-opacity="1"/>
<line x1="351.4" y1="540.88" x2="404.9" y2="540.88" stroke="#41b34a" stroke-width="0.75" stroke-opacity="1"/>
<line x1="259.7" y1="541.19" x2="366.7" y2="541.19" stroke="#41b34a" stroke-width="0.75" stroke-opacity="1"/>
<line x1="313.2" y1="541.50" x2="336.1" y2="541.50" stroke="#41b34a" stroke-width="0.75" stroke-opacity="1"/>
<line x1="267.3" y1="541.81" x2="412.5" y2="541.81" stroke="#41b34a" stroke-width="0.75" stroke-opacity="1"/>
<line x1="282.6" y1="542.12" x2="359.0" y2="542.12" stroke="#41b34a" stroke-width="0.75" stroke-opacity="1"/>
<line x1="328.5" y1="542.43" x2="359.0" y2="542.43" stroke="#41b34a" stroke-width="0.75" stroke-opacity="1"/>
<line x1="259.7" y1="542.74" x2="450.7" y2="542.74" stroke="#41b34a" stroke-width="0.75" stroke-opacity="1"/>
<line x1="259.7" y1="543.05" x2="420.1" y2="543.05" stroke="#41b34a" stroke-width="0.75" stroke-opacity="1"/>
<line x1="267.3" y1="543.37" x2="336.1" y2="543.37" stroke="#41b34a" stroke-width="0.75" stroke-opacity="1"/>
<line x1="305.5" y1="543.68" x2="343.7" y2="543.68" stroke="#41b34a" stroke-width="0.75" stroke-opacity="1"/>
<line x1="305.5" y1="543.99" x2="343.7" y2="543.99" stroke="#41b34a" stroke-width="0.75" stroke-opacity="1"/>
<line x1="267.3" y1="544.30" x2="450.7" y2="544.30" stroke="#41b34a" stroke-width="0.75" stroke-opacity="1"/>
<line x1="259.7" y1="544.61" x2="381.9" y2="544.61" stroke="#41b34a" stroke-width="0.75" stroke-opacity="1"/>
<line x1="297.9" y1="544.92" x2="412.5" y2="544.92" stroke="#41b34a" stroke-width="0.75" stroke-opacity="1"/>
<line x1="259.7" y1="545.23" x2="366.7" y2="545.23" stroke="#41b34a" stroke-width="0.75" stroke-opacity="1"/>
<line x1="259.7" y1="545.54" x2="336.1" y2="545.54" stroke="#41b34a" stroke-width="0.75" stroke-opacity="1"/>
<line x1="267.3" y1="545.85" x2="343.7" y2="545.85" stroke="#41b34a" stroke-width="0.75" stroke-opacity="1"/>
<line x1="259.7" y1="546.16" x2="404.9" y2="546.16" stroke="#41b34a" stroke-width="0.75" stroke-opacity="1"/>
<line x1="328.5" y1="546.47" x2="404.9" y2="546.47" stroke="#41b34a" stroke-width="0.75" stroke-opacity="1"/>
<line x1="313.2" y1="546.78" x2="458.3" y2="546.78" stroke="#41b34a" stroke-width="0.75" stroke-opacity="1"/>
<line x1="259.7" y1="547.09" x2="381.9" y2="547.09" stroke="#41b34a" stroke-width="0.75" stroke-opacity="1"/>
<line x1="290.3" y1="547.40" x2="336.1" y2="547.40" stroke="#41b34a" stroke-width="0.75" stroke-opacity="1"/>
<line x1="275.0" y1="547.71" x2="420.1" y2="547.71" stroke="#41b34a" stroke-width="0.75" stroke-opacity="1"/>
<line x1="259.7" y1="548.02" x2="450.7" y2="548.02" stroke="#41b34a" stroke-width="0.75" stroke-opacity="1"/>
<line x1="320.8" y1="548.33" x2="351.4" y2="548.33" stroke="#41b34a" stroke-width="0.75" stroke-opacity="1"/>
<line x1="259.7" y1="548.64" x2="359.0" y2="548.64" stroke="#41b34a" stroke-width="0.75" stroke-opacity="1"/>
<line x1="275.0" y1="548.95" x2="359.0" y2="548.95" stroke="#41b34a" stroke-width="0.75" stroke-opacity="1"/>
<line x1="290.3" y1="549.26" x2="412.5" y2="549.26" stroke="#41b34a" stroke-width="0.75" stroke-opacity="1"/>
<line x1="267.3" y1="549.57" x2="404.9" y2="549.57" stroke="#41b34a" stroke-width="0.75" stroke-opacity="1"/>
<line x1="275.0" y1="549.88" x2="374.3" y2="549.88" stroke="#41b34a" stroke-width="0.75" stroke-opacity="1"/>
<line x1="259.7" y1="550.20" x2="351.4" y2="550.20" stroke="#41b34a" stroke-width="0.75" stroke-opacity="1"/>
<line x1="282.6" y1="550.51" x2="374.3" y2="550.51" stroke="#41b34a" stroke-width="0.75" stroke-opacity="1"/>
<line x1="259.7" y1="550.82" x2="336.1" y2="550.82" stroke="#41b34a" stroke-width="0.75" stroke-opacity="1"/>
<line x1="275.0" y1="551.13" x2="397.2" y2="551.13" stroke="#41b34a" stroke-width="0.75" stroke-opacity="1"/>
<line x1="282.6" y1="551.44" x2="351.4" y2="551.44" stroke="#41b34a" stroke-width="0.75" stroke-opacity="1"/>
<line x1="313.2" y1="551.75" x2="336.1" y2="551.75" stroke="#41b34a" stroke-width="0.75" stroke-opacity="1"/>
<line x1="259.7" y1="552.06" x2="412.5" y2="552.06" stroke="#41b34a" stroke-width="0.75" stroke-opacity="1"/>
<line x1="267.3" y1="552.37" x2="404.9" y2="552.37" stroke="#41b34a" stroke-width="0.75" stroke-opacity="1"/>
<line x1="275.0" y1="552.68" x2="397.2" y2="552.68" stroke="#41b34a" stroke-width="0.75" stroke-opacity="1"/>
<line x1="267.3" y1="552.99" x2="389.6" y2="552.99" stroke="#41b34a" stroke-width="0.75" stroke-opacity="1"/>
<line x1="259.7" y1="553.30" x2="351.4" y2="553.30" stroke="#41b34a" stroke-width="0.75" stroke-opacity="1"/>
<line x1="290.3" y1="553.61" x2="404.9" y2="553.61" stroke="#41b34a" stroke-width="0.75" stroke-opacity="1"/>
<line x1="259.7" y1="553.92" x2="343.7" y2="553.92" stroke="#41b34a" stroke-width="0.75" stroke-opacity="1"/>
<line x1="267.3" y1="554.23" x2="359.0" y2="554.23" stroke="#41b34a" stroke-width="0.75" stroke-opacity="1"/>
<line x1="297.9" y1="554.54" x2="458.3" y2="554.54" stroke="#41b34a" stroke-width="0.75" stroke-opacity="1"/>
<line x1="259.7" y1="554.85" x2="389.6" y2="554.85" stroke="#41b34a" stroke-width="0.75" stroke-opacity="1"/>
<line x1="290.3" y1="555.16" x2="336.1" y2="555.16" stroke="#41b34a" stroke-width="0.75" stroke-opacity="1"/>
<line x1="259.7" y1="555.47" x2="343.7" y2="555.47" stroke="#41b34a" stroke-width="0.75" stroke-opacity="1"/>
<line x1="290.3" y1="555.78" x2="359.0" y2="555.78" stroke="#41b34a" stroke-width="0.75" stroke-opacity="1"/>
<line x1="259.7" y1="556.09" x2="359.0" y2="556.09" stroke="#41b34a" stroke-width="0.75" stroke-opacity="1"/>
<line x1="267.3" y1="556.40" x2="343.7" y2="556.40" stroke="#41b34a" stroke-width="0.75" stroke-opacity="1"/>
<line x1="290.3" y1="556.71" x2="351.4" y2="556.71" stroke="#41b34a" stroke-width="0.75" stroke-opacity="1"/>
<line x1="259.7" y1="557.02" x2="397.2" y2="557.02" stroke="#41b34a" stroke-width="0.75" stroke-opacity="1"/>
<line x1="275.0" y1="557.34" x2="351.4" y2="557.34" stroke="#41b34a" stroke-width="0.75" stroke-opacity="1"/>
<line x1="305.5" y1="557.65" x2="374.3" y2="557.65" stroke="#41b34a" stroke-width="0.75" stroke-opacity="1"/>
<line x1="259.7" y1="557.96" x2="336.1" y2="557.96" stroke="#41b34a" stroke-width="0.75" stroke-opacity="1"/>
<line x1="282.6" y1="558.27" x2="412.5" y2="558.27" stroke="#41b34a" stroke-width="0.75" stroke-opacity="1"/>
<line x1="313.2" y1="558.58" x2="336.1" y2="558.58" stroke="#41b34a" stroke-width="0.75" stroke-opacity="1"/>
<line x1="259.7" y1="558.89" x2="374.3" y2="558.89" stroke="#41b34a" stroke-width="0.75" stroke-opacity="1"/>
<line x1="290.3" y1="559.20" x2="359.0" y2="559.20" stroke="#41b34a" stroke-width="0.75" stroke-opacity="1"/>
<line x1="259.7" y1="559.51" x2="366.7" y2="559.51" stroke="#41b34a" stroke-width="0.75" stroke-opacity="1"/>
<line x1="259.7" y1="559.82" x2="435.4" y2="559.82" stroke="#41b34a" stroke-width="0.75" stroke-opacity="1"/>
<line x1="267.3" y1="560.13" x2="359.0" y2="560.13" stroke="#41b34a" stroke-width="0.75" stroke-opacity="1"/>
<line x1="282.6" y1="560.44" x2="343.7" y2="560.44" stroke="#41b34a" stroke-width="0.75" stroke-opacity="1"/>
<line x1="259.7" y1="560.75" x2="359.0" y2="560.75" stroke="#41b34a" stroke-width="0.75" stroke-opacity="1"/>
<line x1="267.3" y1="561.06" x2="359.0" y2="561.06" stroke="#41b34a" stroke-width="0.75" stroke-opacity="1"/>
<line x1="313.2" y1="561.37" x2="359.0" y2="561.37" stroke="#41b34a" stroke-width="0.75" stroke-opacity="1"/>
<line x1="259.7" y1="561.68" x2="343.7" y2="561.68" stroke="#41b34a" stroke-width="0.75" stroke-opacity="1"/>
<line x1="259.7" y1="561.99" x2="351.4" y2="561.99" stroke="#41b34a" stroke-width="0.75" stroke-opacity="1"/>
<line x1="282.6" y1="562.30" x2="359.0" y2="562.30" stroke="#41b34a" stroke-width="0.75" stroke-opacity="1"/>
<line x1="259.7" y1="562.61" x2="366.7" y2="562.61" stroke="#41b34a" stroke-width="0.75" stroke-opacity="1"/>
<line x1="259.7" y1="562.92" x2="328.5" y2="562.92" stroke="#41b34a" stroke-width="0.75" stroke-opacity="1"/>
<line x1="343.7" y1="563.23" x2="389.6" y2="563.23" stroke="#41b34a" stroke-width="0.75" stroke-opacity="1"/>
<line x1="259.7" y1="563.54" x2="336.1" y2="563.54" stroke="#41b34a" stroke-width="0.75" stroke-opacity="1"/>
<line x1="259.7" y1="563.85" x2="366.7" y2="563.85" stroke="#41b34a" stroke-width="0.75" stroke-opacity="1"/>
<line x1="259.7" y1="564.16" x2="381.9" y2="564.16" stroke="#41b34a" stroke-width="0.75" stroke-opacity="1"/>
<line x1="259.7" y1="564.48" x2="336.1" y2="564.48" stroke="#41b34a" stroke-width="0.75" stroke-opacity="1"/>
<line x1="305.5" y1="564.79" x2="359.0" y2="564.79" stroke="#41b34a" stroke-width="0.75" stroke-opacity="1"/>
<line x1="259.7" y1="565.10" x2="343.7" y2="565.10" stroke="#41b34a" stroke-width="0.75" stroke-opacity="1"/>
<line x1="275.0" y1="565.41" x2="320.8" y2="565.41" stroke="#41b34a" stroke-width="0.75" stroke-opacity="1"/>
<line x1="282.6" y1="565.72" x2="389.6" y2="565.72" stroke="#41b34a" stroke-width="0.75" stroke-opacity="1"/>
<line x1="259.7" y1="566.03" x2="389.6" y2="566.03" stroke="#41b34a" stroke-width="0.75" stroke-opacity="1"/>
<line x1="259.7" y1="566.34" x2="351.4" y2="566.34" stroke="#41b34a" stroke-width="0.75" stroke-opacity="1"/>
<line x1="282.6" y1="566.65" x2="389.6" y2="566.65" stroke="#41b34a" stroke-width="0.75" stroke-opacity="1"/>
<line x1="275.0" y1="566.96" x2="359.0" y2="566.96" stroke="#41b34a" stroke-width="0.75" stroke-opacity="1"/>
<line x1="267.3" y1="567.27" x2="374.3" y2="567.27" stroke="#41b34a" stroke-width="0.75" stroke-opacity="1"/>
<line x1="275.0" y1="567.58" x2="427.8" y2="567.58" stroke="#41b34a" stroke-width="0.75" stroke-opacity="1"/>
<line x1="259.7" y1="567.89" x2="404.9" y2="567.89" stroke="#41b34a" stroke-width="0.75" stroke-opacity="1"/>
<line x1="267.3" y1="568.20" x2="397.2" y2="568.20" stroke="#41b34a" stroke-width="0.75" stroke-opacity="1"/>
<line x1="259.7" y1="568.51" x2="389.6" y2="568.51" stroke="#41b34a" stroke-width="0.75" stroke-opacity="1"/>
<line x1="259.7" y1="568.82" x2="420.1" y2="568.82" stroke="#41b34a" stroke-width="0.75" stroke-opacity="1"/>
<line x1="267.3" y1="569.13" x2="420.1" y2="569.13" stroke="#41b34a" stroke-width="0.75" stroke-opacity="1"/>
<line x1="259.7" y1="569.44" x2="381.9" y2="569.44" stroke="#41b34a" stroke-width="0.75" stroke-opacity="1"/>
<line x1="259.7" y1="569.75" x2="351.4" y2="569.75" stroke="#41b34a" stroke-width="0.75" stroke-opacity="1"/>
<line x1="297.9" y1="570.06" x2="366.7" y2="570.06" stroke="#41b34a" stroke-width="0.75" stroke-opacity="1"/>
<line x1="259.7" y1="570.37" x2="374.3" y2="570.37" stroke="#41b34a" stroke-width="0.75" stroke-opacity="1"/>
<line x1="259.7" y1="570.68" x2="336.1" y2="570.68" stroke="#41b34a" stroke-width="0.75" stroke-opacity="1"/>
<line x1="259.7" y1="570.99" x2="450.7" y2="570.99" stroke="#41b34a" stroke-width="0.75" stroke-opacity="1"/>
<line x1="305.5" y1="571.30" x2="397.2" y2="571.30" stroke="#41b34a" stroke-width="0.75" stroke-opacity="1"/>
<line x1="259.7" y1="571.62" x2="366.7" y2="571.62" stroke="#41b34a" stroke-width="0.75" stroke-opacity="1"/>
<line x1="259.7" y1="571.93" x2="397.2" y2="571.93" stroke="#41b34a" stroke-width="0.75" stroke-opacity="1"/>
<line x1="351.4" y1="572.24" x2="397.2" y2="572.24" stroke="#41b34a" stroke-width="0.75" stroke-opacity="1"/>
<line x1="259.7" y1="572.55" x2="359.0" y2="572.55" stroke="#41b34a" stroke-width="0.75" stroke-opacity="1"/>
<line x1="267.3" y1="572.86" x2="374.3" y2="572.86" stroke="#41b34a" stroke-width="0.75" stroke-opacity="1"/>
<line x1="259.7" y1="573.17" x2="359.0" y2="573.17" stroke="#41b34a" stroke-width="0.75" stroke-opacity="1"/>
<line x1="259.7" y1="573.48" x2="359.0" y2="573.48" stroke="#41b34a" stroke-width="0.75" stroke-opacity="1"/>
<line x1="275.0" y1="573.79" x2="343.7" y2="573.79" stroke="#41b34a" stroke-width="0.75" stroke-opacity="1"/>
<line x1="267.3" y1="574.10" x2="359.0" y2="574.10" stroke="#41b34a" stroke-width="0.75" stroke-opacity="1"/>
<line x1="275.0" y1="574.41" x2="397.2" y2="574.41" stroke="#41b34a" stroke-width="0.75" stroke-opacity="1"/>
<line x1="259.7" y1="574.72" x2="351.4" y2="574.72" stroke="#41b34a" stroke-width="0.75" stroke-opacity="1"/>
<line x1="259.7" y1="575.03" x2="381.9" y2="575.03" stroke="#41b34a" stroke-width="0.75" stroke-opacity="1"/>
<line x1="259.7" y1="575.34" x2="427.8" y2="575.34" stroke="#41b34a" stroke-width="0.75" stroke-opacity="1"/>
<line x1="259.7" y1="575.65" x2="343.7" y2="575.65" stroke="#41b34a" stroke-width="0.75" stroke-opacity="1"/>
<line x1="259.7" y1="575.96" x2="336.1" y2="575.96" stroke="#41b34a" stroke-width="0.75" stroke-opacity="1"/>
<line x1="259.7" y1="576.27" x2="366.7" y2="576.27" stroke="#41b34a" stroke-width="0.75" stroke-opacity="1"/>
<line x1="297.9" y1="576.58" x2="343.7" y2="576.58" stroke="#41b34a" stroke-width="0.75" stroke-opacity="1"/>
<line x1="267.3" y1="576.89" x2="389.6" y2="576.89" stroke="#41b34a" stroke-width="0.75" stroke-opacity="1"/>
<line x1="267.3" y1="577.20" x2="381.9" y2="577.20" stroke="#41b34a" stroke-width="0.75" stroke-opacity="1"/>
<line x1="320.8" y1="577.51" x2="397.2" y2="577.51" stroke="#41b34a" stroke-width="0.75" stroke-opacity="1"/>
<line x1="259.7" y1="577.82" x2="412.5" y2="577.82" stroke="#41b34a" stroke-width="0.75" stroke-opacity="1"/>
<line x1="259.7" y1="578.13" x2="381.9" y2="578.13" stroke="#41b34a" stroke-width="0.75" stroke-opacity="1"/>
<line x1="305.5" y1="578.45" x2="343.7" y2="578.45" stroke="#41b34a" stroke-width="0.75" stroke-opacity="1"/>
<line x1="259.7" y1="578.76" x2="351.4" y2="578.76" stroke="#41b34a" stroke-width="0.75" stroke-opacity="1"/>
<line x1="259.7" y1="579.07" x2="343.7" y2="579.07" stroke="#41b34a" stroke-width="0.75" stroke-opacity="1"/>
<line x1="267.3" y1="579.38" x2="320.8" y2="579.38" stroke="#41b34a" stroke-width="0.75" stroke-opacity="1"/>
<line x1="297.9" y1="579.69" x2="366.7" y2="579.69" stroke="#41b34a" stroke-width="0.75" stroke-opacity="1"/>
<line x1="259.7" y1="580.00" x2="389.6" y2="580.00" stroke="#41b34a" stroke-width="0.75" stroke-opacity="1"/>
<line x1="259.7" y1="580.31" x2="366.7" y2="580.31" stroke="#41b34a" stroke-width="0.75" stroke-opacity="1"/>
<line x1="290.3" y1="580.62" x2="435.4" y2="580.62" stroke="#41b34a" stroke-width="0.75" stroke-opacity="1"/>
<line x1="297.9" y1="580.93" x2="404.9" y2="580.93" stroke="#41b34a" stroke-width="0.75" stroke-opacity="1"/>
<line x1="275.0" y1="581.24" x2="343.7" y2="581.24" stroke="#41b34a" stroke-width="0.75" stroke-opacity="1"/>
<line x1="275.0" y1="581.55" x2="328.5" y2="581.55" stroke="#41b34a" stroke-width="0.75" stroke-opacity="1"/>
<line x1="259.7" y1="581.86" x2="389.6" y2="581.86" stroke="#41b34a" stroke-width="0.75" stroke-opacity="1"/>
<line x1="259.7" y1="582.17" x2="412.5" y2="582.17" stroke="#41b34a" stroke-width="0.75" stroke-opacity="1"/>
<line x1="259.7" y1="582.48" x2="359.0" y2="582.48" stroke="#41b34a" stroke-width="0.75" stroke-opacity="1"/>
<line x1="259.7" y1="582.79" x2="389.6" y2="582.79" stroke="#41b34a" stroke-width="0.75" stroke-opacity="1"/>
<line x1="313.2" y1="583.10" x2="336.1" y2="583.10" stroke="#41b34a" stroke-width="0.75" stroke-opacity="1"/>
<line x1="259.7" y1="583.41" x2="351.4" y2="583.41" stroke="#41b34a" stroke-width="0.75" stroke-opacity="1"/>
<line x1="259.7" y1="583.72" x2="404.9" y2="583.72" stroke="#41b34a" stroke-width="0.75" stroke-opacity="1"/>
<line x1="282.6" y1="584.03" x2="359.0" y2="584.03" stroke="#41b34a" stroke-width="0.75" stroke-opacity="1"/>
<line x1="267.3" y1="584.34" x2="374.3" y2="584.34" stroke="#41b34a" stroke-width="0.75" stroke-opacity="1"/>
<line x1="259.7" y1="584.65" x2="359.0" y2="584.65" stroke="#41b34a" stroke-width="0.75" stroke-opacity="1"/>
<line x1="259.7" y1="584.96" x2="389.6" y2="584.96" stroke="#41b34a" stroke-width="0.75" stroke-opacity="1"/>
<line x1="259.7" y1="585.27" x2="328.5" y2="585.27" stroke="#41b34a" stroke-width="0.75" stroke-opacity="1"/>
<line x1="259.7" y1="585.59" x2="374.3" y2="585.59" stroke="#41b34a" stroke-width="0.75" stroke-opacity="1"/>
<line x1="297.9" y1="585.90" x2="343.7" y2="585.90" stroke="#41b34a" stroke-width="0.75" stroke-opacity="1"/>
<line x1="259.7" y1="586.21" x2="397.2" y2="586.21" stroke="#41b34a" stroke-width="0.75" stroke-opacity="1"/>
<line x1="259.7" y1="586.52" x2="366.7" y2="586.52" stroke="#41b34a" stroke-width="0.75" stroke-opacity="1"/>
<line x1="259.7" y1="586.83" x2="465.8" y2="586.83" stroke="#41b34a" stroke-width="0.75" stroke-opacity="1"/>
<line x1="267.3" y1="587.14" x2="366.7" y2="587.14" stroke="#41b34a" stroke-width="0.75" stroke-opacity="1"/>
<line x1="282.6" y1="587.45" x2="412.5" y2="587.45" stroke="#41b34a" stroke-width="0.75" stroke-opacity="1"/>
<line x1="259.7" y1="587.76" x2="343.7" y2="587.76" stroke="#41b34a" stroke-width="0.75" stroke-opacity="1"/>
<line x1="259.7" y1="588.07" x2="343.7" y2="588.07" stroke="#41b34a" stroke-width="0.75" stroke-opacity="1"/>
<line x1="259.7" y1="588.38" x2="435.4" y2="588.38" stroke="#41b34a" stroke-width="0.75" stroke-opacity="1"/>
<line x1="259.7" y1="588.69" x2="366.7" y2="588.69" stroke="#41b34a" stroke-width="0.75" stroke-opacity="1"/>
<line x1="297.9" y1="592.00" x2="397.2" y2="592.00" stroke="#3e84bf" stroke-width="0.75" stroke-opacity="1"/>
<line x1="320.8" y1="592.31" x2="427.8" y2="592.31" stroke="#3e84bf" stroke-width="0.75" stroke-opacity="1"/>
<line x1="305.5" y1="592.62" x2="381.9" y2="592.62" stroke="#3e84bf" stroke-width="0.75" stroke-opacity="1"/>
<line x1="320.8" y1="592.93" x2="397.2" y2="592.93" stroke="#3e84bf" stroke-width="0.75" stroke-opacity="1"/>
<line x1="305.5" y1="593.24" x2="397.2" y2="593.24" stroke="#3e84bf" stroke-width="0.75" stroke-opacity="1"/>
<line x1="313.2" y1="593.55" x2="397.2" y2="593.55" stroke="#3e84bf" stroke-width="0.75" stroke-opacity="1"/>
<line x1="297.9" y1="593.86" x2="374.3" y2="593.86" stroke="#3e84bf" stroke-width="0.75" stroke-opacity="1"/>
<line x1="351.4" y1="594.17" x2="381.9" y2="594.17" stroke="#3e84bf" stroke-width="0.75" stroke-opacity="1"/>
<line x1="305.5" y1="594.48" x2="404.9" y2="594.48" stroke="#3e84bf" stroke-width="0.75" stroke-opacity="1"/>
<line x1="320.8" y1="594.78" x2="374.3" y2="594.78" stroke="#3e84bf" stroke-width="0.75" stroke-opacity="1"/>
<line x1="313.2" y1="595.09" x2="397.2" y2="595.09" stroke="#3e84bf" stroke-width="0.75" stroke-opacity="1"/>
<line x1="305.5" y1="595.40" x2="397.2" y2="595.40" stroke="#3e84bf" stroke-width="0.75" stroke-opacity="1"/>
<line x1="297.9" y1="595.71" x2="381.9" y2="595.71" stroke="#3e84bf" stroke-width="0.75" stroke-opacity="1"/>
<line x1="290.3" y1="596.02" x2="374.3" y2="596.02" stroke="#3e84bf" stroke-width="0.75" stroke-opacity="1"/>
<line x1="374.3" y1="596.33" x2="389.6" y2="596.33" stroke="#3e84bf" stroke-width="0.75" stroke-opacity="1"/>
<line x1="320.8" y1="596.64" x2="412.5" y2="596.64" stroke="#3e84bf" stroke-width="0.75" stroke-opacity="1"/>
<line x1="320.8" y1="596.95" x2="366.7" y2="596.95" stroke="#3e84bf" stroke-width="0.75" stroke-opacity="1"/>
<line x1="313.2" y1="597.26" x2="389.6" y2="597.26" stroke="#3e84bf" stroke-width="0.75" stroke-opacity="1"/>
<line x1="305.5" y1="597.57" x2="366.7" y2="597.57" stroke="#3e84bf" stroke-width="0.75" stroke-opacity="1"/>
<line x1="343.7" y1="597.88" x2="389.6" y2="597.88" stroke="#3e84bf" stroke-width="0.75" stroke-opacity="1"/>
<line x1="305.5" y1="598.19" x2="389.6" y2="598.19" stroke="#3e84bf" stroke-width="0.75" stroke-opacity="1"/>
<line x1="305.5" y1="598.50" x2="404.9" y2="598.50" stroke="#3e84bf" stroke-width="0.75" stroke-opacity="1"/>
<line x1="313.2" y1="598.81" x2="366.7" y2="598.81" stroke="#3e84bf" stroke-width="0.75" stroke-opacity="1"/>
<line x1="336.1" y1="599.12" x2="366.7" y2="599.12" stroke="#3e84bf" stroke-width="0.75" stroke-opacity="1"/>
<line x1="305.5" y1="599.42" x2="359.0" y2="599.42" stroke="#3e84bf" stroke-width="0.75" stroke-opacity="1"/>
<line x1="328.5" y1="599.73" x2="374.3" y2="599.73" stroke="#3e84bf" stroke-width="0.75" stroke-opacity="1"/>
<line x1="313.2" y1="600.04" x2="366.7" y2="600.04" stroke="#3e84bf" stroke-width="0.75" stroke-opacity="1"/>
<line x1="313.2" y1="600.35" x2="397.2" y2="600.35" stroke="#3e84bf" stroke-width="0.75" stroke-opacity="1"/>
<line x1="313.2" y1="600.66" x2="389.6" y2="600.66" stroke="#3e84bf" stroke-width="0.75" stroke-opacity="1"/>
<line x1="313.2" y1="600.97" x2="389.6" y2="600.97" stroke="#3e84bf" stroke-width="0.75" stroke-opacity="1"/>
<line x1="313.2" y1="601.28" x2="366.7" y2="601.28" stroke="#3e84bf" stroke-width="0.75" stroke-opacity="1"/>
<line x1="313.2" y1="601.59" x2="374.3" y2="601.59" stroke="#3e84bf" stroke-width="0.75" stroke-opacity="1"/>
<line x1="336.1" y1="601.90" x2="427.8" y2="601.90" stroke="#3e84bf" stroke-width="0.75" stroke-opacity="1"/>
<line x1="290.3" y1="602.21" x2="374.3" y2="602.21" stroke="#3e84bf" stroke-width="0.75" stroke-opacity="1"/>
<line x1="320.8" y1="602.52" x2="389.6" y2="602.52" stroke="#3e84bf" stroke-width="0.75" stroke-opacity="1"/>
<line x1="282.6" y1="602.83" x2="397.2" y2="602.83" stroke="#3e84bf" stroke-width="0.75" stroke-opacity="1"/>
<line x1="359.0" y1="603.14" x2="381.9" y2="603.14" stroke="#3e84bf" stroke-width="0.75" stroke-opacity="1"/>
<line x1="305.5" y1="603.45" x2="389.6" y2="603.45" stroke="#3e84bf" stroke-width="0.75" stroke-opacity="1"/>
<line x1="359.0" y1="603.76" x2="381.9" y2="603.76" stroke="#3e84bf" stroke-width="0.75" stroke-opacity="1"/>
<line x1="305.5" y1="604.07" x2="374.3" y2="604.07" stroke="#3e84bf" stroke-width="0.75" stroke-opacity="1"/>
<line x1="320.8" y1="604.38" x2="389.6" y2="604.38" stroke="#3e84bf" stroke-width="0.75" stroke-opacity="1"/>
<line x1="305.5" y1="604.68" x2="381.9" y2="604.68" stroke="#3e84bf" stroke-width="0.75" stroke-opacity="1"/>
<line x1="282.6" y1="604.99" x2="381.9" y2="604.99" stroke="#3e84bf" stroke-width="0.75" stroke-opacity="1"/>
<line x1="374.3" y1="605.30" x2="389.6" y2="605.30" stroke="#3e84bf" stroke-width="0.75" stroke-opacity="1"/>
<line x1="305.5" y1="605.61" x2="420.1" y2="605.61" stroke="#3e84bf" stroke-width="0.75" stroke-opacity="1"/>
<line x1="313.2" y1="605.92" x2="381.9" y2="605.92" stroke="#3e84bf" stroke-width="0.75" stroke-opacity="1"/>
<line x1="282.6" y1="606.23" x2="374.3" y2="606.23" stroke="#3e84bf" stroke-width="0.75" stroke-opacity="1"/>
<line x1="305.5" y1="606.54" x2="374.3" y2="606.54" stroke="#3e84bf" stroke-width="0.75" stroke-opacity="1"/>
<line x1="343.7" y1="606.85" x2="381.9" y2="606.85" stroke="#3e84bf" stroke-width="0.75" stroke-opacity="1"/>
<line x1="305.5" y1="607.16" x2="389.6" y2="607.16" stroke="#3e84bf" stroke-width="0.75" stroke-opacity="1"/>
<line x1="351.4" y1="607.47" x2="381.9" y2="607.47" stroke="#3e84bf" stroke-width="0.75" stroke-opacity="1"/>
<line x1="328.5" y1="607.78" x2="381.9" y2="607.78" stroke="#3e84bf" stroke-width="0.75" stroke-opacity="1"/>
<line x1="313.2" y1="608.09" x2="389.6" y2="608.09" stroke="#3e84bf" stroke-width="0.75" stroke-opacity="1"/>
<line x1="359.0" y1="608.40" x2="397.2" y2="608.40" stroke="#3e84bf" stroke-width="0.75" stroke-opacity="1"/>
<line x1="313.2" y1="608.71" x2="404.9" y2="608.71" stroke="#3e84bf" stroke-width="0.75" stroke-opacity="1"/>
<line x1="313.2" y1="609.02" x2="381.9" y2="609.02" stroke="#3e84bf" stroke-width="0.75" stroke-opacity="1"/>
<line x1="366.7" y1="609.33" x2="389.6" y2="609.33" stroke="#3e84bf" stroke-width="0.75" stroke-opacity="1"/>
<line x1="328.5" y1="609.63" x2="381.9" y2="609.63" stroke="#3e84bf" stroke-width="0.75" stroke-opacity="1"/>
<line x1="351.4" y1="609.94" x2="389.6" y2="609.94" stroke="#3e84bf" stroke-width="0.75" stroke-opacity="1"/>
<line x1="305.5" y1="610.25" x2="420.1" y2="610.25" stroke="#3e84bf" stroke-width="0.75" stroke-opacity="1"/>
<line x1="313.2" y1="610.56" x2="381.9" y2="610.56" stroke="#3e84bf" stroke-width="0.75" stroke-opacity="1"/>
<line x1="305.5" y1="610.87" x2="366.7" y2="610.87" stroke="#3e84bf" stroke-width="0.75" stroke-opacity="1"/>
<line x1="305.5" y1="611.18" x2="397.2" y2="611.18" stroke="#3e84bf" stroke-width="0.75" stroke-opacity="1"/>
<line x1="297.9" y1="611.49" x2="381.9" y2="611.49" stroke="#3e84bf" stroke-width="0.75" stroke-opacity="1"/>
<line x1="313.2" y1="611.80" x2="389.6" y2="611.80" stroke="#3e84bf" stroke-width="0.75" stroke-opacity="1"/>
<line x1="313.2" y1="612.11" x2="397.2" y2="612.11" stroke="#3e84bf" stroke-width="0.75" stroke-opacity="1"/>
<line x1="305.5" y1="612.42" x2="381.9" y2="612.42" stroke="#3e84bf" stroke-width="0.75" stroke-opacity="1"/>
<line x1="313.2" y1="612.73" x2="374.3" y2="612.73" stroke="#3e84bf" stroke-width="0.75" stroke-opacity="1"/>
<line x1="305.5" y1="613.04" x2="374.3" y2="613.04" stroke="#3e84bf" stroke-width="0.75" stroke-opacity="1"/>
<line x1="320.8" y1="613.35" x2="374.3" y2="613.35" stroke="#3e84bf" stroke-width="0.75" stroke-opacity="1"/>
<line x1="320.8" y1="613.66" x2="374.3" y2="613.66" stroke="#3e84bf" stroke-width="0.75" stroke-opacity="1"/>
<line x1="320.8" y1="613.97" x2="397.2" y2="613.97" stroke="#3e84bf" stroke-width="0.75" stroke-opacity="1"/>
<line x1="313.2" y1="614.27" x2="420.1" y2="614.27" stroke="#3e84bf" stroke-width="0.75" stroke-opacity="1"/>
<line x1="320.8" y1="614.58" x2="389.6" y2="614.58" stroke="#3e84bf" stroke-width="0.75" stroke-opacity="1"/>
<line x1="290.3" y1="614.89" x2="381.9" y2="614.89" stroke="#3e84bf" stroke-width="0.75" stroke-opacity="1"/>
<line x1="305.5" y1="615.20" x2="389.6" y2="615.20" stroke="#3e84bf" stroke-width="0.75" stroke-opacity="1"/>
<line x1="351.4" y1="615.51" x2="412.5" y2="615.51" stroke="#3e84bf" stroke-width="0.75" stroke-opacity="1"/>
<line x1="290.3" y1="615.82" x2="397.2" y2="615.82" stroke="#3e84bf" stroke-width="0.75" stroke-opacity="1"/>
<line x1="359.0" y1="616.13" x2="389.6" y2="616.13" stroke="#3e84bf" stroke-width="0.75" stroke-opacity="1"/>
<line x1="297.9" y1="616.44" x2="412.5" y2="616.44" stroke="#3e84bf" stroke-width="0.75" stroke-opacity="1"/>
<line x1="313.2" y1="616.75" x2="450.7" y2="616.75" stroke="#3e84bf" stroke-width="0.75" stroke-opacity="1"/>
<line x1="343.7" y1="617.06" x2="404.9" y2="617.06" stroke="#3e84bf" stroke-width="0.75" stroke-opacity="1"/>
<line x1="351.4" y1="617.37" x2="366.7" y2="617.37" stroke="#3e84bf" stroke-width="0.75" stroke-opacity="1"/>
<line x1="328.5" y1="617.68" x2="381.9" y2="617.68" stroke="#3e84bf" stroke-width="0.75" stroke-opacity="1"/>
<line x1="297.9" y1="617.99" x2="381.9" y2="617.99" stroke="#3e84bf" stroke-width="0.75" stroke-opacity="1"/>
<line x1="313.2" y1="618.30" x2="351.4" y2="618.30" stroke="#3e84bf" stroke-width="0.75" stroke-opacity="1"/>
<line x1="313.2" y1="618.61" x2="397.2" y2="618.61" stroke="#3e84bf" stroke-width="0.75" stroke-opacity="1"/>
<line x1="313.2" y1="618.92" x2="389.6" y2="618.92" stroke="#3e84bf" stroke-width="0.75" stroke-opacity="1"/>
<line x1="305.5" y1="619.23" x2="443.1" y2="619.23" stroke="#3e84bf" stroke-width="0.75" stroke-opacity="1"/>
<line x1="305.5" y1="619.53" x2="397.2" y2="619.53" stroke="#3e84bf" stroke-width="0.75" stroke-opacity="1"/>
<line x1="320.8" y1="619.84" x2="351.4" y2="619.84" stroke="#3e84bf" stroke-width="0.75" stroke-opacity="1"/>
<line x1="374.3" y1="620.15" x2="420.1" y2="620.15" stroke="#3e84bf" stroke-width="0.75" stroke-opacity="1"/>
<line x1="351.4" y1="620.46" x2="404.9" y2="620.46" stroke="#3e84bf" stroke-width="0.75" stroke-opacity="1"/>
<line x1="313.2" y1="620.77" x2="389.6" y2="620.77" stroke="#3e84bf" stroke-width="0.75" stroke-opacity="1"/>
<line x1="305.5" y1="621.08" x2="420.1" y2="621.08" stroke="#3e84bf" stroke-width="0.75" stroke-opacity="1"/>
<line x1="282.6" y1="621.39" x2="374.3" y2="621.39" stroke="#3e84bf" stroke-width="0.75" stroke-opacity="1"/>
<line x1="359.0" y1="621.70" x2="404.9" y2="621.70" stroke="#3e84bf" stroke-width="0.75" stroke-opacity="1"/>
<line x1="320.8" y1="622.01" x2="443.1" y2="622.01" stroke="#3e84bf" stroke-width="0.75" stroke-opacity="1"/>
<line x1="313.2" y1="622.32" x2="404.9" y2="622.32" stroke="#3e84bf" stroke-width="0.75" stroke-opacity="1"/>
<line x1="313.2" y1="622.63" x2="412.5" y2="622.63" stroke="#3e84bf" stroke-width="0.75" stroke-opacity="1"/>
<line x1="290.3" y1="622.94" x2="389.6" y2="622.94" stroke="#3e84bf" stroke-width="0.75" stroke-opacity="1"/>
<line x1="313.2" y1="623.25" x2="404.9" y2="623.25" stroke="#3e84bf" stroke-width="0.75" stroke-opacity="1"/>
<line x1="313.2" y1="623.56" x2="397.2" y2="623.56" stroke="#3e84bf" stroke-width="0.75" stroke-opacity="1"/>
<line x1="366.7" y1="623.87" x2="381.9" y2="623.87" stroke="#3e84bf" stroke-width="0.75" stroke-opacity="1"/>
<line x1="305.5" y1="624.17" x2="359.0" y2="624.17" stroke="#3e84bf" stroke-width="0.75" stroke-opacity="1"/>
<line x1="336.1" y1="624.48" x2="389.6" y2="624.48" stroke="#3e84bf" stroke-width="0.75" stroke-opacity="1"/>
<line x1="313.2" y1="624.79" x2="389.6" y2="624.79" stroke="#3e84bf" stroke-width="0.75" stroke-opacity="1"/>
<line x1="297.9" y1="625.10" x2="374.3" y2="625.10" stroke="#3e84bf" stroke-width="0.75" stroke-opacity="1"/>
<line x1="305.5" y1="625.41" x2="381.9" y2="625.41" stroke="#3e84bf" stroke-width="0.75" stroke-opacity="1"/>
<line x1="336.1" y1="625.72" x2="381.9" y2="625.72" stroke="#3e84bf" stroke-width="0.75" stroke-opacity="1"/>
<line x1="297.9" y1="626.03" x2="412.5" y2="626.03" stroke="#3e84bf" stroke-width="0.75" stroke-opacity="1"/>
<line x1="313.2" y1="626.34" x2="359.0" y2="626.34" stroke="#3e84bf" stroke-width="0.75" stroke-opacity="1"/>
<line x1="320.8" y1="626.65" x2="397.2" y2="626.65" stroke="#3e84bf" stroke-width="0.75" stroke-opacity="1"/>
<line x1="320.8" y1="626.96" x2="397.2" y2="626.96" stroke="#3e84bf" stroke-width="0.75" stroke-opacity="1"/>
<line x1="313.2" y1="627.27" x2="374.3" y2="627.27" stroke="#3e84bf" stroke-width="0.75" stroke-opacity="1"/>
<line x1="328.5" y1="627.58" x2="389.6" y2="627.58" stroke="#3e84bf" stroke-width="0.75" stroke-opacity="1"/>
<line x1="320.8" y1="627.89" x2="374.3" y2="627.89" stroke="#3e84bf" stroke-width="0.75" stroke-opacity="1"/>
<line x1="313.2" y1="628.20" x2="397.2" y2="628.20" stroke="#3e84bf" stroke-width="0.75" stroke-opacity="1"/>
<line x1="313.2" y1="628.51" x2="389.6" y2="628.51" stroke="#3e84bf" stroke-width="0.75" stroke-opacity="1"/>
<line x1="313.2" y1="628.82" x2="397.2" y2="628.82" stroke="#3e84bf" stroke-width="0.75" stroke-opacity="1"/>
<line x1="305.5" y1="629.12" x2="389.6" y2="629.12" stroke="#3e84bf" stroke-width="0.75" stroke-opacity="1"/>
<line x1="336.1" y1="629.43" x2="381.9" y2="629.43" stroke="#3e84bf" stroke-width="0.75" stroke-opacity="1"/>
<line x1="305.5" y1="629.74" x2="389.6" y2="629.74" stroke="#3e84bf" stroke-width="0.75" stroke-opacity="1"/>
<line x1="297.9" y1="630.05" x2="404.9" y2="630.05" stroke="#3e84bf" stroke-width="0.75" stroke-opacity="1"/>
<line x1="305.5" y1="630.36" x2="412.5" y2="630.36" stroke="#3e84bf" stroke-width="0.75" stroke-opacity="1"/>
<line x1="313.2" y1="630.67" x2="374.3" y2="630.67" stroke="#3e84bf" stroke-width="0.75" stroke-opacity="1"/>
<line x1="313.2" y1="630.98" x2="397.2" y2="630.98" stroke="#3e84bf" stroke-width="0.75" stroke-opacity="1"/>
<line x1="313.2" y1="631.29" x2="389.6" y2="631.29" stroke="#3e84bf" stroke-width="0.75" stroke-opacity="1"/>
<line x1="313.2" y1="631.60" x2="435.4" y2="631.60" stroke="#3e84bf" stroke-width="0.75" stroke-opacity="1"/>
<line x1="305.5" y1="631.91" x2="404.9" y2="631.91" stroke="#3e84bf" stroke-width="0.75" stroke-opacity="1"/>
<line x1="282.6" y1="632.22" x2="389.6" y2="632.22" stroke="#3e84bf" stroke-width="0.75" stroke-opacity="1"/>
<line x1="290.3" y1="632.53" x2="374.3" y2="632.53" stroke="#3e84bf" stroke-width="0.75" stroke-opacity="1"/>
<line x1="313.2" y1="632.84" x2="412.5" y2="632.84" stroke="#3e84bf" stroke-width="0.75" stroke-opacity="1"/>
<line x1="305.5" y1="633.15" x2="381.9" y2="633.15" stroke="#3e84bf" stroke-width="0.75" stroke-opacity="1"/>
<line x1="313.2" y1="633.46" x2="389.6" y2="633.46" stroke="#3e84bf" stroke-width="0.75" stroke-opacity="1"/>
<line x1="313.2" y1="633.77" x2="381.9" y2="633.77" stroke="#3e84bf" stroke-width="0.75" stroke-opacity="1"/>
<line x1="336.1" y1="634.08" x2="389.6" y2="634.08" stroke="#3e84bf" stroke-width="0.75" stroke-opacity="1"/>
<line x1="313.2" y1="634.38" x2="404.9" y2="634.38" stroke="#3e84bf" stroke-width="0.75" stroke-opacity="1"/>
<line x1="282.6" y1="634.69" x2="381.9" y2="634.69" stroke="#3e84bf" stroke-width="0.75" stroke-opacity="1"/>
<line x1="343.7" y1="635.00" x2="374.3" y2="635.00" stroke="#3e84bf" stroke-width="0.75" stroke-opacity="1"/>
<line x1="305.5" y1="635.31" x2="404.9" y2="635.31" stroke="#3e84bf" stroke-width="0.75" stroke-opacity="1"/>
<line x1="297.9" y1="635.62" x2="404.9" y2="635.62" stroke="#3e84bf" stroke-width="0.75" stroke-opacity="1"/>
<line x1="305.5" y1="635.93" x2="381.9" y2="635.93" stroke="#3e84bf" stroke-width="0.75" stroke-opacity="1"/>
<line x1="313.2" y1="636.24" x2="366.7" y2="636.24" stroke="#3e84bf" stroke-width="0.75" stroke-opacity="1"/>
<line x1="328.5" y1="636.55" x2="389.6" y2="636.55" stroke="#3e84bf" stroke-width="0.75" stroke-opacity="1"/>
<line x1="328.5" y1="636.86" x2="397.2" y2="636.86" stroke="#3e84bf" stroke-width="0.75" stroke-opacity="1"/>
<line x1="290.3" y1="637.17" x2="404.9" y2="637.17" stroke="#3e84bf" stroke-width="0.75" stroke-opacity="1"/>
<line x1="336.1" y1="637.48" x2="381.9" y2="637.48" stroke="#3e84bf" stroke-width="0.75" stroke-opacity="1"/>
<line x1="313.2" y1="637.79" x2="374.3" y2="637.79" stroke="#3e84bf" stroke-width="0.75" stroke-opacity="1"/>
<line x1="313.2" y1="638.10" x2="397.2" y2="638.10" stroke="#3e84bf" stroke-width="0.75" stroke-opacity="1"/>
<line x1="313.2" y1="638.41" x2="389.6" y2="638.41" stroke="#3e84bf" stroke-width="0.75" stroke-opacity="1"/>
<line x1="297.9" y1="638.72" x2="412.5" y2="638.72" stroke="#3e84bf" stroke-width="0.75" stroke-opacity="1"/>
<line x1="320.8" y1="639.02" x2="404.9" y2="639.02" stroke="#3e84bf" stroke-width="0.75" stroke-opacity="1"/>
<line x1="290.3" y1="639.33" x2="397.2" y2="639.33" stroke="#3e84bf" stroke-width="0.75" stroke-opacity="1"/>
<line x1="297.9" y1="639.64" x2="389.6" y2="639.64" stroke="#3e84bf" stroke-width="0.75" stroke-opacity="1"/>
<line x1="305.5" y1="639.95" x2="412.5" y2="639.95" stroke="#3e84bf" stroke-width="0.75" stroke-opacity="1"/>
<line x1="297.9" y1="640.26" x2="389.6" y2="640.26" stroke="#3e84bf" stroke-width="0.75" stroke-opacity="1"/>
<line x1="313.2" y1="640.57" x2="381.9" y2="640.57" stroke="#3e84bf" stroke-width="0.75" stroke-opacity="1"/>
<line x1="290.3" y1="640.88" x2="397.2" y2="640.88" stroke="#3e84bf" stroke-width="0.75" stroke-opacity="1"/>
<line x1="366.7" y1="641.19" x2="381.9" y2="641.19" stroke="#3e84bf" stroke-width="0.75" stroke-opacity="1"/>
<polygon points="53.3,589.2 172,588.8 186,583.4 260,582 315,582.4 395,586.5 404,589 404,590.4 53.3,590.4" fill="#ef8024"/>
<rect x="259.7" y="589.2" width="146.5" height="1.6" fill="#fa2424"/>
<line x1="75.7" y1="591.60" x2="130.0" y2="591.60" stroke="#9d65bb" stroke-width="1.3" stroke-opacity="1"/>
<line x1="152.8" y1="591.60" x2="172.0" y2="591.60" stroke="#9d65bb" stroke-width="1.3" stroke-opacity="1"/>
<line x1="185.0" y1="591.60" x2="204.0" y2="591.60" stroke="#9d65bb" stroke-width="1.3" stroke-opacity="1"/>
<line x1="230.0" y1="591.60" x2="258.7" y2="591.60" stroke="#9d65bb" stroke-width="1.3" stroke-opacity="1"/>
<line x1="259.7" y1="406.3" x2="259.7" y2="731" stroke="#222" stroke-width="1.3" />
<text x="53.3" y="425.0" font-size="10" text-anchor="start" >retained</text>
<text x="467.8" y="426.8" font-size="10" text-anchor="end" >lost</text>
<text x="307.5" y="430.7" font-size="10" text-anchor="start" >Gene Proximal Breakpoint</text>
<text x="307.5" y="442.55" font-size="10" text-anchor="start" >158 cross-junction</text>
<text x="307.5" y="454.4" font-size="10" text-anchor="start" >17 expansion</text>
<text x="307.5" y="466.25" font-size="10" text-anchor="start" >7 other</text>
<text x="307.5" y="494.7" font-size="10" text-anchor="start" >163 foldback</text>
<text x="307.5" y="506.55" font-size="10" text-anchor="start" >8 palindrome</text>
<text x="307.5" y="518.4" font-size="10" text-anchor="start" >3 strand-switch</text>
<text x="53.3" y="551.8" font-size="10" text-anchor="start" >lost</text>
<text x="467.8" y="552.3" font-size="10" text-anchor="end" >retained</text>
<text x="116.6" y="547.0" font-size="10" text-anchor="start" >Gene Distal Breakpoint</text>
<text x="116.6" y="558.85" font-size="10" text-anchor="start" >182 cross-junction</text>
<text x="116.6" y="570.7" font-size="10" text-anchor="start" >24 expansion</text>
<text x="116.6" y="582.55" font-size="10" text-anchor="start" >3 other</text>
<text x="116.6" y="610.6" font-size="10" text-anchor="start" >160 foldback</text>
<text x="116.6" y="622.45" font-size="10" text-anchor="start" >5 palindrome</text>
<text x="116.6" y="634.3000000000001" font-size="10" text-anchor="start" >8 strand-switch</text>
<text x="7.6" y="639.8" font-size="16" text-anchor="start" >G</text>
<line x1="53.7" y1="646.8" x2="53.7" y2="728.1" stroke="#222" stroke-width="1.2" />
<line x1="46.7" y1="728.1" x2="53.7" y2="728.1" stroke="#222" stroke-width="1.0" />
<line x1="46.7" y1="706.1" x2="53.7" y2="706.1" stroke="#222" stroke-width="1.0" />
<line x1="46.7" y1="684.1" x2="53.7" y2="684.1" stroke="#222" stroke-width="1.0" />
<line x1="46.7" y1="662.1" x2="53.7" y2="662.1" stroke="#222" stroke-width="1.0" />
<text x="0" y="0" font-size="10" text-anchor="middle" transform="translate(39.9,728.1) rotate(-90)" >0</text>
<text x="0" y="0" font-size="10" text-anchor="middle" transform="translate(39.9,706.1) rotate(-90)" >50</text>
<text x="0" y="0" font-size="10" text-anchor="middle" transform="translate(39.9,662.1) rotate(-90)" >150</text>
<text x="0" y="0" font-size="9.7" text-anchor="middle" transform="translate(16.1,677.4) rotate(-90)" ># Templates</text>
<line x1="106.9" y1="732.8" x2="412.5" y2="732.8" stroke="#222" stroke-width="1.2" />
<line x1="106.9" y1="732.8" x2="106.9" y2="738.6" stroke="#222" stroke-width="1.1" />
<text x="106.9" y="754.4" font-size="9.8" text-anchor="middle" >-20</text>
<line x1="183.3" y1="732.8" x2="183.3" y2="738.6" stroke="#222" stroke-width="1.1" />
<text x="183.3" y="754.4" font-size="9.8" text-anchor="middle" >-10</text>
<line x1="259.7" y1="732.8" x2="259.7" y2="738.6" stroke="#222" stroke-width="1.1" />
<text x="259.7" y="754.4" font-size="9.8" text-anchor="middle" >0</text>
<line x1="336.09999999999997" y1="732.8" x2="336.09999999999997" y2="738.6" stroke="#222" stroke-width="1.1" />
<text x="336.09999999999997" y="754.4" font-size="9.8" text-anchor="middle" >10</text>
<line x1="412.5" y1="732.8" x2="412.5" y2="738.6" stroke="#222" stroke-width="1.1" />
<text x="412.5" y="754.4" font-size="9.8" text-anchor="middle" >20</text>
<text x="259.7" y="778.4" font-size="10" text-anchor="middle" >Distance from Junction (bp)</text>
<polyline points="53.42,727.66 106.90,727.66 129.82,727.22 160.38,725.46 183.30,725.02 221.50,724.58 259.70,724.58 297.90,725.46 336.10,726.34 374.30,726.78 465.98,727.22" fill="none" stroke="#fa2424" stroke-width="1.4" stroke-linejoin="round" />
<polyline points="53.42,728.10 129.82,727.66 145.10,726.34 160.38,723.70 183.30,721.94 221.50,720.62 259.70,719.74 274.98,719.74 297.90,724.14 336.10,725.46 374.30,726.78 465.98,727.22" fill="none" stroke="#ef8024" stroke-width="1.4" stroke-linejoin="round" />
<polyline points="53.42,727.44 68.70,727.00 106.90,727.00 183.30,727.44 259.70,727.22 297.90,727.22 336.10,727.22 374.30,727.44 465.98,727.66" fill="none" stroke="#9d65bb" stroke-width="1.6" stroke-linejoin="round" stroke-dasharray="5,4.5" stroke-dashoffset="-5"/>
<polyline points="236.78,720.18 252.06,717.54 267.34,717.54 297.90,718.42 343.74,720.62 359.02,725.90 374.30,726.78 412.50,727.22 465.98,727.66" fill="none" stroke="#ef8024" stroke-width="1.5" stroke-linejoin="round" stroke-dasharray="5,3"/>
<polyline points="244.42,726.34 259.70,725.90 297.90,725.90 336.10,726.34 374.30,726.78 412.50,727.22 465.98,727.22" fill="none" stroke="#fa2424" stroke-width="1.8" stroke-linejoin="round" stroke-dasharray="5,3"/>
<polyline points="53.42,727.31 465.98,727.31" fill="none" stroke="#111" stroke-width="2.0" stroke-linejoin="round" stroke-dasharray="6,3.5"/>
<polyline points="53.42,726.78 68.70,725.02 83.98,722.38 99.26,719.30 110.72,713.14 129.82,697.74 137.46,681.90 145.10,673.54 160.38,664.74 168.02,662.98 179.48,666.50 187.88,673.54 198.58,684.98 210.04,704.34 221.50,720.18 229.14,726.34 236.78,727.66" fill="none" stroke="#3e84bf" stroke-width="1.7" stroke-linejoin="round" />
<polyline points="53.42,726.78 68.70,724.58 83.98,720.18 103.08,714.46 106.90,713.14 118.36,705.66 135.17,686.74 145.10,680.14 160.38,670.90 171.84,668.70 190.94,664.74 200.87,672.22 213.86,677.50 224.56,692.90 237.54,705.66 249.00,715.34 259.70,724.14" fill="none" stroke="#41b34a" stroke-width="1.7" stroke-linejoin="round" />
<polyline points="259.70,724.14 268.87,714.02 281.86,700.82 297.90,680.14 310.89,665.62 323.88,660.78 333.81,659.46 346.03,665.18 360.55,673.54 373.54,686.74 388.05,700.82 410.21,715.34 426.25,720.18 449.17,724.14 466.74,726.78" fill="none" stroke="#41b34a" stroke-width="1.7" stroke-linejoin="round" stroke-dasharray="6.5,3.5"/>
<polyline points="284.91,726.78 297.90,718.86 313.94,694.66 329.99,675.30 346.03,665.18 352.91,664.30 365.13,668.70 385.00,691.58 410.21,715.34 429.31,724.14 449.17,726.78 465.98,727.66" fill="none" stroke="#3e84bf" stroke-width="1.7" stroke-linejoin="round" stroke-dasharray="6.5,3.5"/>
<text x="492.2" y="393.4" font-size="16" text-anchor="start" >H</text>
<text x="584.5" y="389.5" font-size="11.4" text-anchor="middle" >SV junction with</text>
<text x="585.5" y="402.9" font-size="11.4" text-anchor="middle" >direct repeat expansion</text>
<line x1="488.4" y1="422.4" x2="524" y2="422.4" stroke="#111" stroke-width="1.5" />
<line x1="488.4" y1="432.5" x2="524" y2="432.5" stroke="#111" stroke-width="1.5" />
<rect x="523.9" y="417" width="10.5" height="10.25" fill="#3050a8" stroke="#6a6a6a" stroke-width="0.6"/>
<rect x="534.4" y="417" width="31.1" height="10.25" fill="#2f7d3c" stroke="#6a6a6a" stroke-width="0.6"/>
<rect x="565.5" y="417" width="10.1" height="10.25" fill="#e8432a" stroke="#6a6a6a" stroke-width="0.6"/>
<rect x="523.9" y="427.25" width="10.5" height="10.35" fill="#c2c5e6" stroke="#6a6a6a" stroke-width="0.6"/>
<rect x="534.4" y="427.25" width="31.1" height="10.35" fill="#b9d8bf" stroke="#6a6a6a" stroke-width="0.6"/>
<rect x="565.5" y="427.25" width="10.1" height="10.35" fill="#f1c8b7" stroke="#6a6a6a" stroke-width="0.6"/>
<rect x="539.8" y="418.2" width="9.6" height="8.2" fill="#3050a8" stroke="#254a2c" stroke-width="1.1"/>
<rect x="539.8" y="428.4" width="9.6" height="8.1" fill="#c2c5e6" stroke="#6f6f6f" stroke-width="1.1"/>
<line x1="575.6" y1="422.4" x2="637.1" y2="422.4" stroke="#111" stroke-width="1.3" stroke-dasharray="3,2.5"/>
<line x1="575.6" y1="432.5" x2="637.1" y2="432.5" stroke="#111" stroke-width="1.3" stroke-dasharray="3,2.5"/>
<rect x="637.7" y="417" width="9.9" height="10.25" fill="#e8432a" stroke="#6a6a6a" stroke-width="0.6"/>
<rect x="637.7" y="427.25" width="9.9" height="10.35" fill="#f1c8b7" stroke="#6a6a6a" stroke-width="0.6"/>
<line x1="647.6" y1="422.4" x2="683.5" y2="422.4" stroke="#111" stroke-width="1.5" />
<line x1="647.6" y1="432.5" x2="683.5" y2="432.5" stroke="#111" stroke-width="1.5" />
<line x1="549.8" y1="411.8" x2="549.8" y2="441" stroke="#559dd6" stroke-width="1.2" />
<line x1="637.1" y1="411.9" x2="637.1" y2="441" stroke="#f2683a" stroke-width="1.2" />
<text x="569.2" y="456.1" font-size="9.2" text-anchor="end" >repeat expansion</text>
<text x="569.2" y="467.2" font-size="9.2" text-anchor="end" >SV junction resolution</text>
<line x1="591.3" y1="446" x2="591.3" y2="462" stroke="#111" stroke-width="1.6" />
<path d="M587.2,459.5 L591.3,467 L595.4,459.5 Z" fill="#111"/>
<line x1="508.4" y1="486.9" x2="549.7" y2="486.9" stroke="#111" stroke-width="1.5" />
<rect x="549.7" y="482.2" width="10.5" height="10.3" fill="#3050a8" stroke="#6a6a6a" stroke-width="0.6"/>
<rect x="560.2" y="482.2" width="46.1" height="10.3" fill="#2f7d3c" stroke="#6a6a6a" stroke-width="0.6"/>
<rect x="606.3000000000001" y="482.2" width="10.2" height="10.3" fill="#e8432a" stroke="#6a6a6a" stroke-width="0.6"/>
<rect x="565.6" y="483.3" width="9.6" height="8.0" fill="#3050a8" stroke="#254a2c" stroke-width="1.1"/>
<rect x="581.1" y="483.3" width="10.0" height="8.0" fill="#3050a8" stroke="#254a2c" stroke-width="1.1"/>
<line x1="616.5" y1="486.9" x2="635" y2="486.9" stroke="#111" stroke-width="1.5" />
<path d="M633.1,482.9 L637.1,486.9 L633.1,490.9" stroke="#111" stroke-width="1.4" fill="none" />
<line x1="648.2" y1="486.9" x2="663.2" y2="486.9" stroke="#111" stroke-width="1.5" />
<line x1="508.4" y1="497.6" x2="533.9" y2="497.6" stroke="#111" stroke-width="1.5" />
<line x1="588" y1="497.6" x2="606.3" y2="497.6" stroke="#111" stroke-width="1.5" />
<path d="M590.5,493.6 L586.5,497.6 L590.5,501.6" stroke="#111" stroke-width="1.4" fill="none" />
<rect x="606.3" y="492.5" width="10.2" height="10.2" fill="#f1c8b7" stroke="#6a6a6a" stroke-width="0.6"/>
<line x1="616.5" y1="497.6" x2="663.2" y2="497.6" stroke="#111" stroke-width="1.5" />
<line x1="575.6" y1="477.1" x2="575.6" y2="504.8" stroke="#559dd6" stroke-width="1.2" />
<line x1="606.3" y1="477.1" x2="606.3" y2="504.8" stroke="#f2683a" stroke-width="1.2" />
<text x="663.2" y="514.3" font-size="8.6" text-anchor="end" >SV allele</text>
<line x1="575.5" y1="505" x2="575.5" y2="545.4" stroke="#111" stroke-width="0.9" stroke-dasharray="1.2,1.3"/>
<line x1="606.5" y1="505" x2="606.5" y2="545.4" stroke="#111" stroke-width="0.9" stroke-dasharray="1.2,1.3"/>
<rect x="575.5" y="519.7" width="31" height="10" fill="#2f7d3c" stroke="#6a6a6a" stroke-width="0.6"/>
<rect x="581.2" y="521.2" width="9.7" height="7.4" fill="#3050a8" stroke="#254a2c" stroke-width="1.1"/>
<text x="569.2" y="521.5" font-size="9.2" text-anchor="end" >template crosses</text>
<text x="569.2" y="533.1" font-size="9.2" text-anchor="end" >breakpoint position</text>
<line x1="529.4" y1="550.6" x2="565.2" y2="550.6" stroke="#111" stroke-width="1.5" />
<line x1="529.4" y1="561.1" x2="565.2" y2="561.1" stroke="#111" stroke-width="1.5" />
<rect x="565.2" y="545.4" width="10.3" height="10.2" fill="#3050a8" stroke="#6a6a6a" stroke-width="0.6"/>
<rect x="575.5" y="545.4" width="31" height="10.2" fill="#2f7d3c" stroke="#6a6a6a" stroke-width="0.6"/>
<rect x="606.5" y="545.4" width="10.2" height="10.2" fill="#e8432a" stroke="#6a6a6a" stroke-width="0.6"/>
<rect x="565.2" y="555.6" width="10.3" height="10.4" fill="#c2c5e6" stroke="#6a6a6a" stroke-width="0.6"/>
<rect x="575.5" y="555.6" width="31" height="10.4" fill="#b9d8bf" stroke="#6a6a6a" stroke-width="0.6"/>
<rect x="606.5" y="555.6" width="10.2" height="10.4" fill="#f1c8b7" stroke="#6a6a6a" stroke-width="0.6"/>
<rect x="581.2" y="546.8" width="9.6" height="7.5" fill="#3050a8" stroke="#254a2c" stroke-width="1.1"/>
<rect x="581.2" y="557.0" width="9.6" height="7.8" fill="#c2c5e6" stroke="#6f6f6f" stroke-width="1.1"/>
<line x1="616.7" y1="550.6" x2="661" y2="550.6" stroke="#111" stroke-width="1.3" stroke-dasharray="3,2.5"/>
<line x1="616.7" y1="561.1" x2="661" y2="561.1" stroke="#111" stroke-width="1.3" stroke-dasharray="3,2.5"/>
<line x1="590.8" y1="540.1" x2="590.8" y2="570.5" stroke="#559dd6" stroke-width="1.2" />
<text x="663.2" y="577.0" font-size="8.6" text-anchor="end" >starting allele</text>
<text x="501.2" y="611.5" font-size="16" text-anchor="start" >I</text>
<path d="M530.9,602.2 L551.8,602.2 L562.0,617.4 L603.1,617.4 L613.4,602.2 L634.2,602.2" stroke="#111" stroke-width="1.6" fill="none" />
<line x1="530.9" y1="612.2" x2="546.6" y2="612.2" stroke="#111" stroke-width="1.6" />
<line x1="619" y1="612.2" x2="634.2" y2="612.2" stroke="#111" stroke-width="1.6" />
<line x1="530.9" y1="632.7" x2="546.6" y2="632.7" stroke="#111" stroke-width="1.6" />
<line x1="619" y1="632.7" x2="634.2" y2="632.7" stroke="#111" stroke-width="1.6" />
<path d="M530.9,643.3 L551.8,643.3 L562.2,627.7 L603.1,627.7 L613.4,643.3 L634.2,643.3" stroke="#111" stroke-width="1.6" fill="none" />
<g transform="rotate(180 582.7 624.05)" stroke="#111" stroke-width="1.0" fill="none"><ellipse cx="0" cy="0" rx="3.9" ry="1.95" transform="translate(574.2,643.1) rotate(33)"/><ellipse cx="0" cy="0" rx="3.7" ry="1.95" transform="translate(569.6,647.4) rotate(53)"/><path d="M565.2,633.6 L567.8,644.0 M560.1,638.2 L570.9,641.0"/></g>
<g  stroke="#111" stroke-width="1.0" fill="none"><ellipse cx="0" cy="0" rx="3.9" ry="1.95" transform="translate(574.2,643.1) rotate(33)"/><ellipse cx="0" cy="0" rx="3.7" ry="1.95" transform="translate(569.6,647.4) rotate(53)"/><path d="M565.2,633.6 L567.8,644.0 M560.1,638.2 L570.9,641.0"/></g>
<line x1="566.9" y1="659" x2="566.9" y2="674" stroke="#111" stroke-width="1.6" />
<path d="M562.8,671.5 L566.9,679.5 L571,671.5 Z" fill="#111"/>
<text x="612" y="665.0" font-size="10" text-anchor="middle" >symmetrical</text>
<text x="613.6" y="677.0" font-size="10" text-anchor="middle" >fork cleavage?</text>
<line x1="531.5" y1="694.8" x2="602.7" y2="694.8" stroke="#111" stroke-width="1.6" />
<line x1="619.2" y1="694.8" x2="634.1" y2="694.8" stroke="#111" stroke-width="1.6" />
<line x1="531.5" y1="704.6" x2="546.4" y2="704.6" stroke="#111" stroke-width="1.6" />
<line x1="562.3" y1="704.6" x2="634.1" y2="704.6" stroke="#111" stroke-width="1.6" />
<line x1="531.5" y1="725.6" x2="551.8" y2="725.6" stroke="#111" stroke-width="1.6" />
<line x1="603.3" y1="725.6" x2="634.1" y2="725.6" stroke="#111" stroke-width="1.6" />
<line x1="531.5" y1="735.8" x2="561.4" y2="735.8" stroke="#111" stroke-width="1.6" />
<line x1="619.2" y1="735.8" x2="634.1" y2="735.8" stroke="#111" stroke-width="1.6" />
<text x="587.8" y="757.0" font-size="9.3" text-anchor="middle" >single-ended DSBs</text>
<text x="587.3" y="767.5" font-size="9.3" text-anchor="middle" >deletion bias</text>
</svg></body></html>
